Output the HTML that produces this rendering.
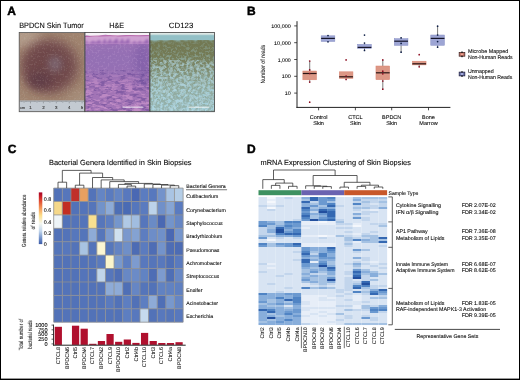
<!DOCTYPE html><html><head><meta charset="utf-8"><style>html,body{margin:0;padding:0;background:#fff;}svg{display:block;will-change:transform;font-family:"Liberation Sans",sans-serif;} text{stroke:#2a2a2a;stroke-width:0.1px;text-rendering:geometricPrecision;}</style></head><body>
<svg width="520" height="380" viewBox="0 0 520 380">
<defs>
<radialGradient id="lesion" cx="0.48" cy="0.5" r="0.55">
 <stop offset="0" stop-color="#8a6a74"/>
 <stop offset="0.35" stop-color="#7a5058"/>
 <stop offset="0.7" stop-color="#7d5a55"/>
 <stop offset="1" stop-color="#a98a74" stop-opacity="0"/>
</radialGradient>
<linearGradient id="he" x1="0" y1="0" x2="0" y2="1">
 <stop offset="0" stop-color="#b37cbf"/>
 <stop offset="0.15" stop-color="#9a6cb0"/>
 <stop offset="0.45" stop-color="#8a62a8"/>
 <stop offset="0.7" stop-color="#a276b4"/>
 <stop offset="1" stop-color="#9a6cae"/>
</linearGradient>
<linearGradient id="cd" x1="0" y1="0" x2="0" y2="1">
 <stop offset="0" stop-color="#6f7a5a"/>
 <stop offset="0.4" stop-color="#77806a"/>
 <stop offset="0.7" stop-color="#86a0a0"/>
 <stop offset="1" stop-color="#8ab4bc"/>
</linearGradient>
<linearGradient id="cbar" x1="0" y1="0" x2="0" y2="1">
 <stop offset="0" stop-color="#a50026"/>
 <stop offset="0.12" stop-color="#d73027"/>
 <stop offset="0.28" stop-color="#f08a50"/>
 <stop offset="0.45" stop-color="#fde08c"/>
 <stop offset="0.6" stop-color="#f4f6ef"/>
 <stop offset="0.75" stop-color="#c2d6ec"/>
 <stop offset="0.88" stop-color="#7594cb"/>
 <stop offset="1" stop-color="#3b5ba8"/>
</linearGradient>
<filter id="noise" x="0" y="0" width="1" height="1">
 <feTurbulence type="fractalNoise" baseFrequency="0.35" numOctaves="2" seed="3" result="n"/>
 <feColorMatrix in="n" type="matrix" values="0 0 0 0 1  0 0 0 0 1  0 0 0 0 1  0 0 0 1.4 -0.55" result="w"/>
 <feComposite in="w" in2="SourceGraphic" operator="in"/>
</filter>
<filter id="bl1" x="-20%" y="-20%" width="140%" height="140%"><feGaussianBlur stdDeviation="0.8"/></filter>
<filter id="bl3" x="-50%" y="-50%" width="200%" height="200%"><feGaussianBlur stdDeviation="3"/></filter>
<filter id="bl4" x="-50%" y="-50%" width="200%" height="200%"><feGaussianBlur stdDeviation="4"/></filter>
<filter id="bl5" x="-50%" y="-50%" width="200%" height="200%"><feGaussianBlur stdDeviation="5"/></filter>
<filter id="bl6" x="-50%" y="-50%" width="200%" height="200%"><feGaussianBlur stdDeviation="6"/></filter>
<filter id="spk1" x="0" y="0" width="1" height="1" color-interpolation-filters="sRGB">
 <feTurbulence type="fractalNoise" baseFrequency="0.7 0.5" numOctaves="2" seed="11"/>
 <feColorMatrix type="matrix" values="0 0 0 0 0  0 0 0 0 0  0 0 0 0 0  6 0 0 0 -3.2"/>
 <feComposite in="SourceGraphic" operator="in"/>
</filter>
<filter id="spk2" x="0" y="0" width="1" height="1" color-interpolation-filters="sRGB">
 <feTurbulence type="fractalNoise" baseFrequency="0.12 0.4" numOctaves="3" seed="4"/>
 <feColorMatrix type="matrix" values="0 0 0 0 0  0 0 0 0 0  0 0 0 0 0  6 0 0 0 -2.7"/>
 <feComposite in="SourceGraphic" operator="in"/>
</filter>
<filter id="spk3" x="0" y="0" width="1" height="1" color-interpolation-filters="sRGB">
 <feTurbulence type="fractalNoise" baseFrequency="0.5" numOctaves="2" seed="9"/>
 <feColorMatrix type="matrix" values="0 0 0 0 0  0 0 0 0 0  0 0 0 0 0  7 0 0 0 -3.6"/>
 <feComposite in="SourceGraphic" operator="in"/>
</filter>
<filter id="spk6" x="0" y="0" width="1" height="1" color-interpolation-filters="sRGB">
 <feTurbulence type="fractalNoise" baseFrequency="0.15 0.35" numOctaves="3" seed="21"/>
 <feColorMatrix type="matrix" values="0 0 0 0 0  0 0 0 0 0  0 0 0 0 0  7 0 0 0 -3.6"/>
 <feComposite in="SourceGraphic" operator="in"/>
</filter>
<filter id="spk4" x="0" y="0" width="1" height="1" color-interpolation-filters="sRGB">
 <feTurbulence type="fractalNoise" baseFrequency="0.38" numOctaves="3" seed="2"/>
 <feColorMatrix type="matrix" values="0 0 0 0 0  0 0 0 0 0  0 0 0 0 0  5 0 0 0 -2.3"/>
 <feComposite in="SourceGraphic" operator="in"/>
</filter>
<linearGradient id="olive" x1="0" y1="0" x2="0" y2="1">
 <stop offset="0" stop-color="#727852"/>
 <stop offset="0.4" stop-color="#767d58"/>
 <stop offset="0.7" stop-color="#808c6c" stop-opacity="0.85"/>
 <stop offset="1" stop-color="#7e8c72" stop-opacity="0.75"/>
</linearGradient>
<linearGradient id="gdown" x1="0" y1="0" x2="0" y2="1">
 <stop offset="0" stop-color="#fff" stop-opacity="0.12"/>
 <stop offset="0.5" stop-color="#fff" stop-opacity="0.6"/>
 <stop offset="1" stop-color="#fff" stop-opacity="1"/>
</linearGradient>
<linearGradient id="ltblue" x1="0" y1="0" x2="0" y2="1">
 <stop offset="0" stop-color="#a6ccd6" stop-opacity="0"/>
 <stop offset="0.5" stop-color="#a6ccd6" stop-opacity="0.35"/>
 <stop offset="1" stop-color="#a6ccd6" stop-opacity="0.55"/>
</linearGradient>
<filter id="spk5" x="0" y="0" width="1" height="1" color-interpolation-filters="sRGB">
 <feTurbulence type="fractalNoise" baseFrequency="0.3" numOctaves="3" seed="8"/>
 <feColorMatrix type="matrix" values="0 0 0 0 0  0 0 0 0 0  0 0 0 0 0  5 0 0 0 -2.2"/>
 <feComposite in="SourceGraphic" operator="in"/>
</filter>
<linearGradient id="ghe" x1="0" y1="0" x2="0" y2="1">
 <stop offset="0" stop-color="#fff" stop-opacity="0"/>
 <stop offset="0.35" stop-color="#fff" stop-opacity="0.45"/>
 <stop offset="1" stop-color="#fff" stop-opacity="0.6"/>
</linearGradient>
<mask id="mhe" maskUnits="userSpaceOnUse" x="85" y="68" width="65" height="44"><rect x="85" y="68" width="65" height="44" fill="url(#ghe)"/></mask>
<mask id="mdown" maskUnits="userSpaceOnUse" x="150" y="40" width="65" height="72"><rect x="150" y="40" width="65" height="72" fill="url(#gdown)"/></mask>
</defs>
<rect x="0.00" y="0.00" width="520.00" height="380.00" fill="#000"/>
<rect x="1.00" y="1.00" width="518.00" height="377.60" fill="#fff"/>
<text x="7.20" y="15.00" font-size="12" font-weight="bold" fill="#000" style="stroke:#000;stroke-width:0.45px">A</text>
<text x="19.20" y="27.80" font-size="7.7" textLength="64.60" lengthAdjust="spacingAndGlyphs">BPDCN Skin Tumor</text>
<text x="109.20" y="27.70" font-size="7.6" textLength="14.80" lengthAdjust="spacingAndGlyphs">H&amp;E</text>
<text x="168.80" y="27.70" font-size="7.6" textLength="24.50" lengthAdjust="spacingAndGlyphs">CD123</text>
<clipPath id="cpS"><rect x="19.2" y="32.5" width="65.50" height="79.20"/></clipPath>
<g clip-path="url(#cpS)">
<rect x="19.20" y="32.50" width="65.50" height="79.20" fill="#a0846f"/>
<ellipse cx="26" cy="38" rx="16" ry="10" fill="#b29c8a" filter="url(#bl4)"/>
<ellipse cx="82" cy="98" rx="14" ry="8" fill="#a68e7a" filter="url(#bl4)"/>
<ellipse cx="50" cy="66" rx="29" ry="27" fill="#7a5454" filter="url(#bl6)"/>
<ellipse cx="48" cy="67" rx="23" ry="22" fill="#6e4648" filter="url(#bl5)"/>
<ellipse cx="40" cy="80" rx="12" ry="8" fill="#603e46" filter="url(#bl4)"/>
<ellipse cx="55" cy="64" rx="7" ry="8" fill="#7a626c" filter="url(#bl3)"/>
<rect x="19.2" y="32.5" width="65.50" height="79.20" fill="#d8ccc4" filter="url(#spk1)" opacity="0.12"/>
</g>
<rect x="19.20" y="100.60" width="65.50" height="11.10" fill="#c3cad1"/>
<line x1="19.20" y1="100.80" x2="84.70" y2="100.80" stroke="#9aa2aa" stroke-width="0.4"/>
<line x1="20.20" y1="101.00" x2="20.20" y2="102.00" stroke="#555" stroke-width="0.35"/>
<line x1="21.49" y1="101.00" x2="21.49" y2="102.00" stroke="#555" stroke-width="0.35"/>
<line x1="22.78" y1="101.00" x2="22.78" y2="102.00" stroke="#555" stroke-width="0.35"/>
<line x1="24.07" y1="101.00" x2="24.07" y2="102.70" stroke="#555" stroke-width="0.35"/>
<line x1="25.36" y1="101.00" x2="25.36" y2="102.00" stroke="#555" stroke-width="0.35"/>
<line x1="26.65" y1="101.00" x2="26.65" y2="102.00" stroke="#555" stroke-width="0.35"/>
<line x1="27.94" y1="101.00" x2="27.94" y2="102.00" stroke="#555" stroke-width="0.35"/>
<line x1="29.23" y1="101.00" x2="29.23" y2="102.00" stroke="#555" stroke-width="0.35"/>
<line x1="30.52" y1="101.00" x2="30.52" y2="103.40" stroke="#555" stroke-width="0.35"/>
<line x1="31.81" y1="101.00" x2="31.81" y2="102.00" stroke="#555" stroke-width="0.35"/>
<line x1="33.10" y1="101.00" x2="33.10" y2="102.00" stroke="#555" stroke-width="0.35"/>
<line x1="34.39" y1="101.00" x2="34.39" y2="102.00" stroke="#555" stroke-width="0.35"/>
<line x1="35.68" y1="101.00" x2="35.68" y2="102.00" stroke="#555" stroke-width="0.35"/>
<line x1="36.97" y1="101.00" x2="36.97" y2="102.70" stroke="#555" stroke-width="0.35"/>
<line x1="38.26" y1="101.00" x2="38.26" y2="102.00" stroke="#555" stroke-width="0.35"/>
<line x1="39.55" y1="101.00" x2="39.55" y2="102.00" stroke="#555" stroke-width="0.35"/>
<line x1="40.84" y1="101.00" x2="40.84" y2="102.00" stroke="#555" stroke-width="0.35"/>
<line x1="42.13" y1="101.00" x2="42.13" y2="102.00" stroke="#555" stroke-width="0.35"/>
<line x1="43.42" y1="101.00" x2="43.42" y2="103.40" stroke="#555" stroke-width="0.35"/>
<line x1="44.71" y1="101.00" x2="44.71" y2="102.00" stroke="#555" stroke-width="0.35"/>
<line x1="46.00" y1="101.00" x2="46.00" y2="102.00" stroke="#555" stroke-width="0.35"/>
<line x1="47.29" y1="101.00" x2="47.29" y2="102.00" stroke="#555" stroke-width="0.35"/>
<line x1="48.58" y1="101.00" x2="48.58" y2="102.00" stroke="#555" stroke-width="0.35"/>
<line x1="49.87" y1="101.00" x2="49.87" y2="102.70" stroke="#555" stroke-width="0.35"/>
<line x1="51.16" y1="101.00" x2="51.16" y2="102.00" stroke="#555" stroke-width="0.35"/>
<line x1="52.45" y1="101.00" x2="52.45" y2="102.00" stroke="#555" stroke-width="0.35"/>
<line x1="53.74" y1="101.00" x2="53.74" y2="102.00" stroke="#555" stroke-width="0.35"/>
<line x1="55.03" y1="101.00" x2="55.03" y2="102.00" stroke="#555" stroke-width="0.35"/>
<line x1="56.32" y1="101.00" x2="56.32" y2="103.40" stroke="#555" stroke-width="0.35"/>
<line x1="57.61" y1="101.00" x2="57.61" y2="102.00" stroke="#555" stroke-width="0.35"/>
<line x1="58.90" y1="101.00" x2="58.90" y2="102.00" stroke="#555" stroke-width="0.35"/>
<line x1="60.19" y1="101.00" x2="60.19" y2="102.00" stroke="#555" stroke-width="0.35"/>
<line x1="61.48" y1="101.00" x2="61.48" y2="102.00" stroke="#555" stroke-width="0.35"/>
<line x1="62.77" y1="101.00" x2="62.77" y2="102.70" stroke="#555" stroke-width="0.35"/>
<line x1="64.06" y1="101.00" x2="64.06" y2="102.00" stroke="#555" stroke-width="0.35"/>
<line x1="65.35" y1="101.00" x2="65.35" y2="102.00" stroke="#555" stroke-width="0.35"/>
<line x1="66.64" y1="101.00" x2="66.64" y2="102.00" stroke="#555" stroke-width="0.35"/>
<line x1="67.93" y1="101.00" x2="67.93" y2="102.00" stroke="#555" stroke-width="0.35"/>
<line x1="69.22" y1="101.00" x2="69.22" y2="103.40" stroke="#555" stroke-width="0.35"/>
<line x1="70.51" y1="101.00" x2="70.51" y2="102.00" stroke="#555" stroke-width="0.35"/>
<line x1="71.80" y1="101.00" x2="71.80" y2="102.00" stroke="#555" stroke-width="0.35"/>
<line x1="73.09" y1="101.00" x2="73.09" y2="102.00" stroke="#555" stroke-width="0.35"/>
<line x1="74.38" y1="101.00" x2="74.38" y2="102.00" stroke="#555" stroke-width="0.35"/>
<line x1="75.67" y1="101.00" x2="75.67" y2="102.70" stroke="#555" stroke-width="0.35"/>
<line x1="76.96" y1="101.00" x2="76.96" y2="102.00" stroke="#555" stroke-width="0.35"/>
<line x1="78.25" y1="101.00" x2="78.25" y2="102.00" stroke="#555" stroke-width="0.35"/>
<line x1="79.54" y1="101.00" x2="79.54" y2="102.00" stroke="#555" stroke-width="0.35"/>
<line x1="80.83" y1="101.00" x2="80.83" y2="102.00" stroke="#555" stroke-width="0.35"/>
<line x1="82.12" y1="101.00" x2="82.12" y2="103.40" stroke="#555" stroke-width="0.35"/>
<line x1="83.41" y1="101.00" x2="83.41" y2="102.00" stroke="#555" stroke-width="0.35"/>
<text x="22.60" y="108.80" font-size="3.8" text-anchor="middle" fill="#333">cm</text>
<text x="30.50" y="108.80" font-size="4.4" text-anchor="middle" fill="#333">1</text>
<text x="43.40" y="108.80" font-size="4.4" text-anchor="middle" fill="#333">2</text>
<text x="56.30" y="108.80" font-size="4.4" text-anchor="middle" fill="#333">3</text>
<text x="69.20" y="108.80" font-size="4.4" text-anchor="middle" fill="#333">4</text>
<text x="82.10" y="108.80" font-size="4.4" text-anchor="middle" fill="#333">5</text>
<rect x="19.2" y="32.5" width="65.50" height="79.20" fill="none" stroke="#555" stroke-width="0.8"/>
<clipPath id="cpH"><rect x="85.0" y="32.5" width="64.40" height="79.20"/></clipPath>
<g clip-path="url(#cpH)">
<rect x="85.00" y="32.50" width="64.40" height="79.20" fill="#a274b6"/>
<ellipse cx="112" cy="60" rx="38" ry="17" fill="#9470b4" filter="url(#bl5)"/>
<ellipse cx="143" cy="64" rx="8" ry="24" fill="#8462aa" filter="url(#bl4)"/>
<rect x="85.00" y="35.50" width="64.40" height="8.50" fill="#d0a2d2"/>
<polygon points="85.0 44 86.0 40.2 86.9 40.5 88.0 43.7 93.0 40.8 94.0 41.1 95.1 42.5 99.2 39.9 100.3 40.2 101.5 43.9 104.7 38.7 105.5 39.0 106.5 43.3 110.3 38.7 110.9 39.0 111.7 42.9 116.6 38.5 117.6 38.8 118.7 43.7 122.0 38.4 122.9 38.7 124.0 42.5 128.5 38.6 129.2 38.9 130.1 44.0 134.7 40.9 135.4 41.2 136.3 43.3 140.4 40.8 141.1 41.1 141.9 43.5 147.1 38.9 148.1 39.2 149.3 43.0 149.4 44" fill="#9a68b4" filter="url(#bl1)"/>
<rect x="85.00" y="44.00" width="64.40" height="30.00" fill="#b894cc" filter="url(#spk3)" opacity="0.3"/>
<rect x="85.00" y="68.00" width="64.40" height="44.00" fill="#d49cd0" filter="url(#spk2)" mask="url(#mhe)"/>
<rect x="85.00" y="70.00" width="64.40" height="42.00" fill="#5e4090" filter="url(#spk6)" opacity="0.45"/>
<path d="M85.0 32.5H149.4V35.2Q145 34.8 140 35.4 T130 35.2 T120 35.6 T110 35.3 T100 35.8 T90 36.0 T85.0 36.2Z" fill="#f6f2f6"/>
<path d="M85.0 36.5 L90 36.3 L100 36.0 L110 35.7 L120 36.0 L130 35.6 L140 35.8 L149.4 35.6" stroke="#b866aa" stroke-width="1.0" fill="none"/>
</g>
<line x1="122.50" y1="107.20" x2="143.40" y2="107.20" stroke="#fff" stroke-width="0.8"/>
<rect x="85.0" y="32.5" width="64.40" height="79.20" fill="none" stroke="#444" stroke-width="0.8"/>
<clipPath id="cpC"><rect x="150.0" y="32.5" width="64.50" height="79.20"/></clipPath>
<g clip-path="url(#cpC)">
<rect x="150.00" y="32.50" width="64.50" height="79.20" fill="#94c0c6"/>
<rect x="150.00" y="40.00" width="64.50" height="72.00" fill="url(#olive)"/>
<rect x="150.00" y="40.00" width="64.50" height="72.00" fill="#a8d8e6" filter="url(#spk4)" mask="url(#mdown)"/>
<rect x="150.00" y="55.00" width="64.50" height="57.00" fill="url(#ltblue)"/>
<rect x="150.00" y="60.00" width="64.50" height="52.00" fill="#b6d8e2" filter="url(#spk5)" opacity="0.55"/>
<rect x="150.00" y="32.50" width="64.50" height="2.80" fill="#e4ece8"/>
<path d="M150.0 35.0H214.5V38.5L211 41L207 37.5L203 40L199 38L196 41L190 38.5L186 41L182 39L178 41.5L172 39L166 41L160 39.5L155 41.5L150.0 40Z" fill="#92c0c6" filter="url(#bl1)"/>
</g>
<line x1="188.60" y1="107.20" x2="209.40" y2="107.20" stroke="#fff" stroke-width="0.8"/>
<rect x="150.0" y="32.5" width="64.50" height="79.20" fill="none" stroke="#444" stroke-width="0.8"/>
<text x="247.00" y="15.00" font-size="12" font-weight="bold" fill="#000" style="stroke:#000;stroke-width:0.45px">B</text>
<line x1="297.00" y1="21.20" x2="297.00" y2="108.00" stroke="#222" stroke-width="1.0"/>
<line x1="296.50" y1="107.40" x2="450.40" y2="107.40" stroke="#222" stroke-width="1.0"/>
<line x1="294.20" y1="25.90" x2="297.00" y2="25.90" stroke="#222" stroke-width="0.8"/>
<text x="290.70" y="27.90" font-size="5.2" text-anchor="end" textLength="19.50" lengthAdjust="spacingAndGlyphs">100,000</text>
<line x1="294.20" y1="42.70" x2="297.00" y2="42.70" stroke="#222" stroke-width="0.8"/>
<text x="290.70" y="44.70" font-size="5.2" text-anchor="end" textLength="16.60" lengthAdjust="spacingAndGlyphs">10,000</text>
<line x1="294.20" y1="59.50" x2="297.00" y2="59.50" stroke="#222" stroke-width="0.8"/>
<text x="290.70" y="61.50" font-size="5.2" text-anchor="end" textLength="13.00" lengthAdjust="spacingAndGlyphs">1,000</text>
<line x1="294.20" y1="76.30" x2="297.00" y2="76.30" stroke="#222" stroke-width="0.8"/>
<text x="290.70" y="78.30" font-size="5.2" text-anchor="end" textLength="9.00" lengthAdjust="spacingAndGlyphs">100</text>
<line x1="294.20" y1="93.10" x2="297.00" y2="93.10" stroke="#222" stroke-width="0.8"/>
<text x="290.70" y="95.10" font-size="5.2" text-anchor="end" textLength="6.00" lengthAdjust="spacingAndGlyphs">10</text>
<text x="264.90" y="64.20" font-size="6.3" text-anchor="middle" textLength="38.80" lengthAdjust="spacingAndGlyphs" transform="rotate(-90 264.90 64.20)" style="stroke-width:0.03px">Number of reads</text>
<line x1="318.60" y1="107.40" x2="318.60" y2="110.30" stroke="#222" stroke-width="0.8"/>
<text x="318.60" y="118.50" font-size="5.5" text-anchor="middle">Control</text>
<text x="318.60" y="124.80" font-size="5.5" text-anchor="middle">Skin</text>
<line x1="355.40" y1="107.40" x2="355.40" y2="110.30" stroke="#222" stroke-width="0.8"/>
<text x="355.40" y="118.50" font-size="5.5" text-anchor="middle">CTCL</text>
<text x="355.40" y="124.80" font-size="5.5" text-anchor="middle">Skin</text>
<line x1="391.70" y1="107.40" x2="391.70" y2="110.30" stroke="#222" stroke-width="0.8"/>
<text x="391.70" y="118.50" font-size="5.5" text-anchor="middle">BPDCN</text>
<text x="391.70" y="124.80" font-size="5.5" text-anchor="middle">Skin</text>
<line x1="428.50" y1="107.40" x2="428.50" y2="110.30" stroke="#222" stroke-width="0.8"/>
<text x="428.50" y="118.50" font-size="5.5" text-anchor="middle">Bone</text>
<text x="428.50" y="124.80" font-size="5.5" text-anchor="middle">Marrow</text>
<line x1="309.70" y1="61.00" x2="309.70" y2="82.10" stroke="#444" stroke-width="0.7"/>
<rect x="302.85" y="71.00" width="13.70" height="8.80" fill="#dc9886" stroke="#d98470" stroke-width="0.5"/>
<line x1="302.85" y1="73.50" x2="316.55" y2="73.50" stroke="#2a1515" stroke-width="1.2"/>
<circle cx="309.70" cy="61.00" r="0.85" fill="#8b0a1e"/>
<circle cx="309.70" cy="69.90" r="0.85" fill="#8b0a1e"/>
<circle cx="309.70" cy="73.50" r="0.85" fill="#8b0a1e"/>
<circle cx="309.70" cy="82.10" r="0.85" fill="#8b0a1e"/>
<circle cx="309.70" cy="102.20" r="0.85" fill="#8b0a1e"/>
<line x1="328.00" y1="35.60" x2="328.00" y2="41.80" stroke="#444" stroke-width="0.7"/>
<rect x="321.15" y="35.80" width="13.70" height="5.70" fill="#9da5d4" stroke="#8890c4" stroke-width="0.5"/>
<line x1="321.15" y1="38.40" x2="334.85" y2="38.40" stroke="#15152a" stroke-width="1.2"/>
<circle cx="328.00" cy="35.60" r="0.85" fill="#0d1d45"/>
<circle cx="328.00" cy="41.80" r="0.85" fill="#0d1d45"/>
<line x1="346.10" y1="76.00" x2="346.10" y2="79.50" stroke="#444" stroke-width="0.7"/>
<rect x="339.25" y="71.80" width="13.70" height="6.60" fill="#dc9886" stroke="#d98470" stroke-width="0.5"/>
<line x1="339.25" y1="76.80" x2="352.95" y2="76.80" stroke="#2a1515" stroke-width="1.2"/>
<circle cx="346.10" cy="59.90" r="0.85" fill="#8b0a1e"/>
<circle cx="346.10" cy="76.00" r="0.85" fill="#8b0a1e"/>
<circle cx="346.10" cy="79.50" r="0.85" fill="#8b0a1e"/>
<line x1="364.50" y1="43.00" x2="364.50" y2="50.40" stroke="#444" stroke-width="0.7"/>
<rect x="357.65" y="44.30" width="13.70" height="4.10" fill="#9da5d4" stroke="#8890c4" stroke-width="0.5"/>
<line x1="357.65" y1="47.40" x2="371.35" y2="47.40" stroke="#15152a" stroke-width="1.2"/>
<circle cx="364.50" cy="35.10" r="0.85" fill="#0d1d45"/>
<circle cx="364.50" cy="43.00" r="0.85" fill="#0d1d45"/>
<circle cx="364.50" cy="50.40" r="0.85" fill="#0d1d45"/>
<line x1="382.80" y1="59.90" x2="382.80" y2="89.20" stroke="#444" stroke-width="0.7"/>
<rect x="375.95" y="66.00" width="13.70" height="13.70" fill="#dc9886" stroke="#d98470" stroke-width="0.5"/>
<line x1="375.95" y1="72.80" x2="389.65" y2="72.80" stroke="#2a1515" stroke-width="1.2"/>
<circle cx="382.80" cy="59.90" r="0.85" fill="#8b0a1e"/>
<circle cx="382.80" cy="71.20" r="0.85" fill="#8b0a1e"/>
<circle cx="382.80" cy="73.80" r="0.85" fill="#8b0a1e"/>
<circle cx="382.80" cy="81.00" r="0.85" fill="#8b0a1e"/>
<circle cx="382.80" cy="89.20" r="0.85" fill="#8b0a1e"/>
<line x1="401.10" y1="37.80" x2="401.10" y2="52.20" stroke="#444" stroke-width="0.7"/>
<rect x="394.25" y="38.60" width="13.70" height="6.80" fill="#9da5d4" stroke="#8890c4" stroke-width="0.5"/>
<line x1="394.25" y1="41.20" x2="407.95" y2="41.20" stroke="#15152a" stroke-width="1.2"/>
<circle cx="401.10" cy="37.80" r="0.85" fill="#0d1d45"/>
<circle cx="401.10" cy="43.40" r="0.85" fill="#0d1d45"/>
<circle cx="401.10" cy="52.20" r="0.85" fill="#0d1d45"/>
<line x1="419.20" y1="63.80" x2="419.20" y2="66.80" stroke="#444" stroke-width="0.7"/>
<rect x="412.35" y="61.20" width="13.70" height="3.70" fill="#dc9886" stroke="#d98470" stroke-width="0.5"/>
<line x1="412.35" y1="63.80" x2="426.05" y2="63.80" stroke="#2a1515" stroke-width="1.2"/>
<circle cx="419.20" cy="54.70" r="0.85" fill="#8b0a1e"/>
<circle cx="419.20" cy="66.80" r="0.85" fill="#8b0a1e"/>
<line x1="437.60" y1="26.20" x2="437.60" y2="47.20" stroke="#444" stroke-width="0.7"/>
<rect x="430.75" y="35.00" width="13.70" height="10.30" fill="#9da5d4" stroke="#8890c4" stroke-width="0.5"/>
<line x1="430.75" y1="38.40" x2="444.45" y2="38.40" stroke="#15152a" stroke-width="1.2"/>
<circle cx="437.60" cy="26.20" r="0.85" fill="#0d1d45"/>
<circle cx="437.60" cy="35.00" r="0.85" fill="#0d1d45"/>
<circle cx="437.60" cy="41.60" r="0.85" fill="#0d1d45"/>
<circle cx="437.60" cy="47.20" r="0.85" fill="#0d1d45"/>
<line x1="462.00" y1="51.30" x2="462.00" y2="57.30" stroke="#111" stroke-width="0.8"/>
<rect x="459.15" y="52.40" width="5.70" height="3.80" fill="#c27465" stroke="#3a2020" stroke-width="0.7"/>
<ellipse cx="462.00" cy="54.30" rx="1.3" ry="0.9" fill="#f2a696"/>
<circle cx="462.00" cy="52.40" r="0.7" fill="#111"/>
<circle cx="462.00" cy="56.20" r="0.7" fill="#111"/>
<line x1="462.00" y1="71.00" x2="462.00" y2="77.00" stroke="#111" stroke-width="0.8"/>
<rect x="459.15" y="72.10" width="5.70" height="3.80" fill="#6a72aa" stroke="#1c1c3c" stroke-width="0.7"/>
<ellipse cx="462.00" cy="74.00" rx="1.3" ry="0.9" fill="#aab2e2"/>
<circle cx="462.00" cy="72.10" r="0.7" fill="#111"/>
<circle cx="462.00" cy="75.90" r="0.7" fill="#111"/>
<text x="467.90" y="53.30" font-size="5.5" textLength="40.40" lengthAdjust="spacingAndGlyphs">Microbe Mapped</text>
<text x="467.90" y="59.40" font-size="5.5" textLength="44.80" lengthAdjust="spacingAndGlyphs">Non-Human Reads</text>
<text x="467.90" y="72.50" font-size="5.5" textLength="25.70" lengthAdjust="spacingAndGlyphs">Unmapped</text>
<text x="467.90" y="79.10" font-size="5.5" textLength="44.40" lengthAdjust="spacingAndGlyphs">Non-Human Reads</text>
<text x="7.80" y="153.00" font-size="12" font-weight="bold" fill="#000" style="stroke:#000;stroke-width:0.45px">C</text>
<text x="49.00" y="164.80" font-size="7.4" textLength="142.50" lengthAdjust="spacingAndGlyphs">Bacterial Genera Identified in Skin Biopsies</text>
<rect x="53.70" y="188.10" width="8.68" height="13.46" fill="#5272b8"/>
<rect x="62.33" y="188.10" width="8.68" height="13.46" fill="#5676bb"/>
<rect x="70.95" y="188.10" width="8.68" height="13.46" fill="#c0302a"/>
<rect x="79.58" y="188.10" width="8.68" height="13.46" fill="#e8a060"/>
<rect x="88.21" y="188.10" width="8.68" height="13.46" fill="#5373b9"/>
<rect x="96.84" y="188.10" width="8.68" height="13.46" fill="#6485c4"/>
<rect x="105.46" y="188.10" width="8.68" height="13.46" fill="#5a7bbf"/>
<rect x="114.09" y="188.10" width="8.68" height="13.46" fill="#6485c4"/>
<rect x="122.72" y="188.10" width="8.68" height="13.46" fill="#5878be"/>
<rect x="131.34" y="188.10" width="8.68" height="13.46" fill="#4a68b3"/>
<rect x="139.97" y="188.10" width="8.68" height="13.46" fill="#5b7cc0"/>
<rect x="148.60" y="188.10" width="8.68" height="13.46" fill="#5778be"/>
<rect x="157.22" y="188.10" width="8.68" height="13.46" fill="#7393cb"/>
<rect x="165.85" y="188.10" width="8.68" height="13.46" fill="#a9c4e3"/>
<rect x="174.48" y="188.10" width="8.68" height="13.46" fill="#b4cde6"/>
<rect x="53.70" y="201.51" width="8.68" height="13.46" fill="#f5d88a"/>
<rect x="62.33" y="201.51" width="8.68" height="13.46" fill="#c22e22"/>
<rect x="70.95" y="201.51" width="8.68" height="13.46" fill="#5272b8"/>
<rect x="79.58" y="201.51" width="8.68" height="13.46" fill="#5474ba"/>
<rect x="88.21" y="201.51" width="8.68" height="13.46" fill="#5575ba"/>
<rect x="96.84" y="201.51" width="8.68" height="13.46" fill="#7293ca"/>
<rect x="105.46" y="201.51" width="8.68" height="13.46" fill="#8dabd7"/>
<rect x="114.09" y="201.51" width="8.68" height="13.46" fill="#4e6fb5"/>
<rect x="122.72" y="201.51" width="8.68" height="13.46" fill="#4a6bb4"/>
<rect x="131.34" y="201.51" width="8.68" height="13.46" fill="#5576bc"/>
<rect x="139.97" y="201.51" width="8.68" height="13.46" fill="#5a7bbf"/>
<rect x="148.60" y="201.51" width="8.68" height="13.46" fill="#bcd3ea"/>
<rect x="157.22" y="201.51" width="8.68" height="13.46" fill="#7090c9"/>
<rect x="165.85" y="201.51" width="8.68" height="13.46" fill="#86a5d4"/>
<rect x="174.48" y="201.51" width="8.68" height="13.46" fill="#5a7bc0"/>
<rect x="53.70" y="214.92" width="8.68" height="13.46" fill="#eef4f7"/>
<rect x="62.33" y="214.92" width="8.68" height="13.46" fill="#5272b8"/>
<rect x="70.95" y="214.92" width="8.68" height="13.46" fill="#5373b9"/>
<rect x="79.58" y="214.92" width="8.68" height="13.46" fill="#5474ba"/>
<rect x="88.21" y="214.92" width="8.68" height="13.46" fill="#f8e090"/>
<rect x="96.84" y="214.92" width="8.68" height="13.46" fill="#5676bb"/>
<rect x="105.46" y="214.92" width="8.68" height="13.46" fill="#5d7ec1"/>
<rect x="114.09" y="214.92" width="8.68" height="13.46" fill="#7596cc"/>
<rect x="122.72" y="214.92" width="8.68" height="13.46" fill="#b0c9e5"/>
<rect x="131.34" y="214.92" width="8.68" height="13.46" fill="#a1bde0"/>
<rect x="139.97" y="214.92" width="8.68" height="13.46" fill="#5676bc"/>
<rect x="148.60" y="214.92" width="8.68" height="13.46" fill="#6a8bc6"/>
<rect x="157.22" y="214.92" width="8.68" height="13.46" fill="#4a68b3"/>
<rect x="165.85" y="214.92" width="8.68" height="13.46" fill="#7394cb"/>
<rect x="174.48" y="214.92" width="8.68" height="13.46" fill="#6686c4"/>
<rect x="53.70" y="228.33" width="8.68" height="13.46" fill="#5272b8"/>
<rect x="62.33" y="228.33" width="8.68" height="13.46" fill="#5373b9"/>
<rect x="70.95" y="228.33" width="8.68" height="13.46" fill="#5677bc"/>
<rect x="79.58" y="228.33" width="8.68" height="13.46" fill="#5475ba"/>
<rect x="88.21" y="228.33" width="8.68" height="13.46" fill="#8eabd7"/>
<rect x="96.84" y="228.33" width="8.68" height="13.46" fill="#5676bb"/>
<rect x="105.46" y="228.33" width="8.68" height="13.46" fill="#7d9bcf"/>
<rect x="114.09" y="228.33" width="8.68" height="13.46" fill="#cfe0ef"/>
<rect x="122.72" y="228.33" width="8.68" height="13.46" fill="#7a98cd"/>
<rect x="131.34" y="228.33" width="8.68" height="13.46" fill="#84a2d2"/>
<rect x="139.97" y="228.33" width="8.68" height="13.46" fill="#5d7dc0"/>
<rect x="148.60" y="228.33" width="8.68" height="13.46" fill="#6d8dc8"/>
<rect x="157.22" y="228.33" width="8.68" height="13.46" fill="#7090c9"/>
<rect x="165.85" y="228.33" width="8.68" height="13.46" fill="#4a68b3"/>
<rect x="174.48" y="228.33" width="8.68" height="13.46" fill="#7595cc"/>
<rect x="53.70" y="241.74" width="8.68" height="13.46" fill="#5475ba"/>
<rect x="62.33" y="241.74" width="8.68" height="13.46" fill="#5777bc"/>
<rect x="70.95" y="241.74" width="8.68" height="13.46" fill="#5373b9"/>
<rect x="79.58" y="241.74" width="8.68" height="13.46" fill="#a8c3e2"/>
<rect x="88.21" y="241.74" width="8.68" height="13.46" fill="#5474ba"/>
<rect x="96.84" y="241.74" width="8.68" height="13.46" fill="#fbf6d3"/>
<rect x="105.46" y="241.74" width="8.68" height="13.46" fill="#5677bc"/>
<rect x="114.09" y="241.74" width="8.68" height="13.46" fill="#6383c3"/>
<rect x="122.72" y="241.74" width="8.68" height="13.46" fill="#6f8fc8"/>
<rect x="131.34" y="241.74" width="8.68" height="13.46" fill="#4d6cb4"/>
<rect x="139.97" y="241.74" width="8.68" height="13.46" fill="#5b7bbf"/>
<rect x="148.60" y="241.74" width="8.68" height="13.46" fill="#4e6db5"/>
<rect x="157.22" y="241.74" width="8.68" height="13.46" fill="#7393cb"/>
<rect x="165.85" y="241.74" width="8.68" height="13.46" fill="#4e6db5"/>
<rect x="174.48" y="241.74" width="8.68" height="13.46" fill="#4d6cb4"/>
<rect x="53.70" y="255.15" width="8.68" height="13.46" fill="#5272b8"/>
<rect x="62.33" y="255.15" width="8.68" height="13.46" fill="#5272b8"/>
<rect x="70.95" y="255.15" width="8.68" height="13.46" fill="#5373b9"/>
<rect x="79.58" y="255.15" width="8.68" height="13.46" fill="#5272b8"/>
<rect x="88.21" y="255.15" width="8.68" height="13.46" fill="#5373b9"/>
<rect x="96.84" y="255.15" width="8.68" height="13.46" fill="#5a7abe"/>
<rect x="105.46" y="255.15" width="8.68" height="13.46" fill="#fbf5cc"/>
<rect x="114.09" y="255.15" width="8.68" height="13.46" fill="#7898cd"/>
<rect x="122.72" y="255.15" width="8.68" height="13.46" fill="#5d7ec1"/>
<rect x="131.34" y="255.15" width="8.68" height="13.46" fill="#7d9bcf"/>
<rect x="139.97" y="255.15" width="8.68" height="13.46" fill="#5878bd"/>
<rect x="148.60" y="255.15" width="8.68" height="13.46" fill="#5575ba"/>
<rect x="157.22" y="255.15" width="8.68" height="13.46" fill="#5878bd"/>
<rect x="165.85" y="255.15" width="8.68" height="13.46" fill="#4f6fb6"/>
<rect x="174.48" y="255.15" width="8.68" height="13.46" fill="#5a7abe"/>
<rect x="53.70" y="268.56" width="8.68" height="13.46" fill="#5272b8"/>
<rect x="62.33" y="268.56" width="8.68" height="13.46" fill="#5373b9"/>
<rect x="70.95" y="268.56" width="8.68" height="13.46" fill="#5272b8"/>
<rect x="79.58" y="268.56" width="8.68" height="13.46" fill="#5474ba"/>
<rect x="88.21" y="268.56" width="8.68" height="13.46" fill="#5272b8"/>
<rect x="96.84" y="268.56" width="8.68" height="13.46" fill="#c0d5ea"/>
<rect x="105.46" y="268.56" width="8.68" height="13.46" fill="#5676bb"/>
<rect x="114.09" y="268.56" width="8.68" height="13.46" fill="#4f6eb5"/>
<rect x="122.72" y="268.56" width="8.68" height="13.46" fill="#6888c5"/>
<rect x="131.34" y="268.56" width="8.68" height="13.46" fill="#6b8bc7"/>
<rect x="139.97" y="268.56" width="8.68" height="13.46" fill="#6183c3"/>
<rect x="148.60" y="268.56" width="8.68" height="13.46" fill="#4e6db5"/>
<rect x="157.22" y="268.56" width="8.68" height="13.46" fill="#7d9bcf"/>
<rect x="165.85" y="268.56" width="8.68" height="13.46" fill="#4f6fb6"/>
<rect x="174.48" y="268.56" width="8.68" height="13.46" fill="#6888c5"/>
<rect x="53.70" y="281.97" width="8.68" height="13.46" fill="#5272b8"/>
<rect x="62.33" y="281.97" width="8.68" height="13.46" fill="#5373b9"/>
<rect x="70.95" y="281.97" width="8.68" height="13.46" fill="#5272b8"/>
<rect x="79.58" y="281.97" width="8.68" height="13.46" fill="#5373b9"/>
<rect x="88.21" y="281.97" width="8.68" height="13.46" fill="#5272b8"/>
<rect x="96.84" y="281.97" width="8.68" height="13.46" fill="#5373b9"/>
<rect x="105.46" y="281.97" width="8.68" height="13.46" fill="#8eabd7"/>
<rect x="114.09" y="281.97" width="8.68" height="13.46" fill="#8eabd7"/>
<rect x="122.72" y="281.97" width="8.68" height="13.46" fill="#4f6fb6"/>
<rect x="131.34" y="281.97" width="8.68" height="13.46" fill="#6686c4"/>
<rect x="139.97" y="281.97" width="8.68" height="13.46" fill="#5575ba"/>
<rect x="148.60" y="281.97" width="8.68" height="13.46" fill="#5272b8"/>
<rect x="157.22" y="281.97" width="8.68" height="13.46" fill="#6182c2"/>
<rect x="165.85" y="281.97" width="8.68" height="13.46" fill="#6182c2"/>
<rect x="174.48" y="281.97" width="8.68" height="13.46" fill="#5f80c1"/>
<rect x="53.70" y="295.38" width="8.68" height="13.46" fill="#5272b8"/>
<rect x="62.33" y="295.38" width="8.68" height="13.46" fill="#5373b9"/>
<rect x="70.95" y="295.38" width="8.68" height="13.46" fill="#5272b8"/>
<rect x="79.58" y="295.38" width="8.68" height="13.46" fill="#5373b9"/>
<rect x="88.21" y="295.38" width="8.68" height="13.46" fill="#5272b8"/>
<rect x="96.84" y="295.38" width="8.68" height="13.46" fill="#5373b9"/>
<rect x="105.46" y="295.38" width="8.68" height="13.46" fill="#5a7abe"/>
<rect x="114.09" y="295.38" width="8.68" height="13.46" fill="#5272b8"/>
<rect x="122.72" y="295.38" width="8.68" height="13.46" fill="#5d7ec1"/>
<rect x="131.34" y="295.38" width="8.68" height="13.46" fill="#5171b7"/>
<rect x="139.97" y="295.38" width="8.68" height="13.46" fill="#5d7ec1"/>
<rect x="148.60" y="295.38" width="8.68" height="13.46" fill="#8eabd7"/>
<rect x="157.22" y="295.38" width="8.68" height="13.46" fill="#4f6fb6"/>
<rect x="165.85" y="295.38" width="8.68" height="13.46" fill="#7898cd"/>
<rect x="174.48" y="295.38" width="8.68" height="13.46" fill="#6686c4"/>
<rect x="53.70" y="308.79" width="8.68" height="13.46" fill="#5272b8"/>
<rect x="62.33" y="308.79" width="8.68" height="13.46" fill="#5373b9"/>
<rect x="70.95" y="308.79" width="8.68" height="13.46" fill="#5272b8"/>
<rect x="79.58" y="308.79" width="8.68" height="13.46" fill="#5373b9"/>
<rect x="88.21" y="308.79" width="8.68" height="13.46" fill="#5272b8"/>
<rect x="96.84" y="308.79" width="8.68" height="13.46" fill="#5373b9"/>
<rect x="105.46" y="308.79" width="8.68" height="13.46" fill="#5373b9"/>
<rect x="114.09" y="308.79" width="8.68" height="13.46" fill="#5272b8"/>
<rect x="122.72" y="308.79" width="8.68" height="13.46" fill="#5d7ec1"/>
<rect x="131.34" y="308.79" width="8.68" height="13.46" fill="#5878bd"/>
<rect x="139.97" y="308.79" width="8.68" height="13.46" fill="#c6daee"/>
<rect x="148.60" y="308.79" width="8.68" height="13.46" fill="#5272b8"/>
<rect x="157.22" y="308.79" width="8.68" height="13.46" fill="#5878bd"/>
<rect x="165.85" y="308.79" width="8.68" height="13.46" fill="#5575ba"/>
<rect x="174.48" y="308.79" width="8.68" height="13.46" fill="#5878bd"/>
<line x1="53.70" y1="188.10" x2="53.70" y2="322.20" stroke="#8e8e8e" stroke-width="0.8"/>
<line x1="62.33" y1="188.10" x2="62.33" y2="322.20" stroke="#8e8e8e" stroke-width="0.8"/>
<line x1="70.95" y1="188.10" x2="70.95" y2="322.20" stroke="#8e8e8e" stroke-width="0.8"/>
<line x1="79.58" y1="188.10" x2="79.58" y2="322.20" stroke="#8e8e8e" stroke-width="0.8"/>
<line x1="88.21" y1="188.10" x2="88.21" y2="322.20" stroke="#8e8e8e" stroke-width="0.8"/>
<line x1="96.84" y1="188.10" x2="96.84" y2="322.20" stroke="#8e8e8e" stroke-width="0.8"/>
<line x1="105.46" y1="188.10" x2="105.46" y2="322.20" stroke="#8e8e8e" stroke-width="0.8"/>
<line x1="114.09" y1="188.10" x2="114.09" y2="322.20" stroke="#8e8e8e" stroke-width="0.8"/>
<line x1="122.72" y1="188.10" x2="122.72" y2="322.20" stroke="#8e8e8e" stroke-width="0.8"/>
<line x1="131.34" y1="188.10" x2="131.34" y2="322.20" stroke="#8e8e8e" stroke-width="0.8"/>
<line x1="139.97" y1="188.10" x2="139.97" y2="322.20" stroke="#8e8e8e" stroke-width="0.8"/>
<line x1="148.60" y1="188.10" x2="148.60" y2="322.20" stroke="#8e8e8e" stroke-width="0.8"/>
<line x1="157.22" y1="188.10" x2="157.22" y2="322.20" stroke="#8e8e8e" stroke-width="0.8"/>
<line x1="165.85" y1="188.10" x2="165.85" y2="322.20" stroke="#8e8e8e" stroke-width="0.8"/>
<line x1="174.48" y1="188.10" x2="174.48" y2="322.20" stroke="#8e8e8e" stroke-width="0.8"/>
<line x1="183.11" y1="188.10" x2="183.11" y2="322.20" stroke="#8e8e8e" stroke-width="0.8"/>
<line x1="53.70" y1="188.10" x2="183.11" y2="188.10" stroke="#8e8e8e" stroke-width="0.8"/>
<line x1="53.70" y1="201.51" x2="183.11" y2="201.51" stroke="#8e8e8e" stroke-width="0.8"/>
<line x1="53.70" y1="214.92" x2="183.11" y2="214.92" stroke="#8e8e8e" stroke-width="0.8"/>
<line x1="53.70" y1="228.33" x2="183.11" y2="228.33" stroke="#8e8e8e" stroke-width="0.8"/>
<line x1="53.70" y1="241.74" x2="183.11" y2="241.74" stroke="#8e8e8e" stroke-width="0.8"/>
<line x1="53.70" y1="255.15" x2="183.11" y2="255.15" stroke="#8e8e8e" stroke-width="0.8"/>
<line x1="53.70" y1="268.56" x2="183.11" y2="268.56" stroke="#8e8e8e" stroke-width="0.8"/>
<line x1="53.70" y1="281.97" x2="183.11" y2="281.97" stroke="#8e8e8e" stroke-width="0.8"/>
<line x1="53.70" y1="295.38" x2="183.11" y2="295.38" stroke="#8e8e8e" stroke-width="0.8"/>
<line x1="53.70" y1="308.79" x2="183.11" y2="308.79" stroke="#8e8e8e" stroke-width="0.8"/>
<line x1="53.70" y1="322.20" x2="183.11" y2="322.20" stroke="#8e8e8e" stroke-width="0.8"/>
<path d="M58.01 188.10V182.20H66.64V188.10" stroke="#2a2a2a" stroke-width="0.75" fill="none"/>
<path d="M75.27 188.10V185.20H83.89V188.10" stroke="#2a2a2a" stroke-width="0.75" fill="none"/>
<path d="M170.16 188.10V185.70H178.79V188.10" stroke="#2a2a2a" stroke-width="0.75" fill="none"/>
<path d="M161.54 188.10V185.10H174.48V185.70" stroke="#2a2a2a" stroke-width="0.75" fill="none"/>
<path d="M152.91 188.10V184.50H168.01V185.10" stroke="#2a2a2a" stroke-width="0.75" fill="none"/>
<path d="M144.28 188.10V184.00H160.46V184.50" stroke="#2a2a2a" stroke-width="0.75" fill="none"/>
<path d="M127.03 188.10V186.10H135.66V188.10" stroke="#2a2a2a" stroke-width="0.75" fill="none"/>
<path d="M118.40 188.10V184.40H131.34V186.10" stroke="#2a2a2a" stroke-width="0.75" fill="none"/>
<path d="M124.87 184.40V183.40H152.37V184.00" stroke="#2a2a2a" stroke-width="0.75" fill="none"/>
<path d="M109.78 188.10V181.60H138.62V183.40" stroke="#2a2a2a" stroke-width="0.75" fill="none"/>
<path d="M101.15 188.10V179.90H124.20V181.60" stroke="#2a2a2a" stroke-width="0.75" fill="none"/>
<path d="M92.52 188.10V177.50H112.67V179.90" stroke="#2a2a2a" stroke-width="0.75" fill="none"/>
<path d="M79.58 185.20V173.10H102.60V177.50" stroke="#2a2a2a" stroke-width="0.75" fill="none"/>
<path d="M62.33 182.20V170.40H91.09V173.10" stroke="#2a2a2a" stroke-width="0.75" fill="none"/>
<text x="186.30" y="187.60" font-size="5.2" textLength="39.50" lengthAdjust="spacingAndGlyphs">Bacterial Genera</text>
<line x1="186.00" y1="189.70" x2="227.10" y2="189.70" stroke="#777" stroke-width="1.1"/>
<text x="186.30" y="198.40" font-size="5.2">Cutibacterium</text>
<text x="186.30" y="211.70" font-size="5.2">Corynebacterium</text>
<text x="186.30" y="225.00" font-size="5.2">Staphylococcus</text>
<text x="186.30" y="238.30" font-size="5.2">Bradyrhizobium</text>
<text x="186.30" y="251.60" font-size="5.2">Pseudomonas</text>
<text x="186.30" y="264.90" font-size="5.2">Achromobacter</text>
<text x="186.30" y="278.20" font-size="5.2">Streptococcus</text>
<text x="186.30" y="291.50" font-size="5.2">Ensifer</text>
<text x="186.30" y="304.80" font-size="5.2">Acinetobacter</text>
<text x="186.30" y="318.10" font-size="5.2">Escherichia</text>
<rect x="38.80" y="192.40" width="3.50" height="51.70" fill="url(#cbar)"/>
<text x="43.80" y="201.30" font-size="5.3">0.8</text>
<text x="43.80" y="212.40" font-size="5.3">0.6</text>
<text x="43.80" y="223.50" font-size="5.3">0.4</text>
<text x="43.80" y="234.60" font-size="5.3">0.2</text>
<text x="43.80" y="245.70" font-size="5.3">0</text>
<text x="26.50" y="220.80" font-size="6.0" text-anchor="middle" textLength="52.20" lengthAdjust="spacingAndGlyphs" transform="rotate(-90 26.50 220.80)" style="stroke-width:0.03px">Genera relative abundance</text>
<text x="34.90" y="220.80" font-size="6.0" text-anchor="middle" textLength="17.50" lengthAdjust="spacingAndGlyphs" transform="rotate(-90 34.90 220.80)" style="stroke-width:0.03px">of reads</text>
<rect x="54.70" y="326.80" width="7.23" height="18.10" fill="#b0102e"/>
<rect x="63.33" y="344.90" width="7.23" height="0.00" fill="#b0102e"/>
<rect x="71.95" y="325.70" width="7.23" height="19.20" fill="#b0102e"/>
<rect x="80.58" y="328.70" width="7.23" height="16.20" fill="#b0102e"/>
<rect x="89.21" y="343.80" width="7.23" height="1.10" fill="#b0102e"/>
<rect x="97.84" y="341.00" width="7.23" height="3.90" fill="#b0102e"/>
<rect x="106.46" y="334.00" width="7.23" height="10.90" fill="#b0102e"/>
<rect x="115.09" y="341.80" width="7.23" height="3.10" fill="#b0102e"/>
<rect x="123.72" y="339.50" width="7.23" height="5.40" fill="#b0102e"/>
<rect x="132.34" y="342.90" width="7.23" height="2.00" fill="#b0102e"/>
<rect x="140.97" y="332.90" width="7.23" height="12.00" fill="#b0102e"/>
<rect x="149.60" y="341.00" width="7.23" height="3.90" fill="#b0102e"/>
<rect x="158.22" y="343.00" width="7.23" height="1.90" fill="#b0102e"/>
<rect x="166.85" y="343.00" width="7.23" height="1.90" fill="#b0102e"/>
<rect x="175.48" y="342.20" width="7.23" height="2.70" fill="#b0102e"/>
<line x1="53.50" y1="324.60" x2="53.50" y2="345.40" stroke="#222" stroke-width="0.9"/>
<line x1="53.00" y1="345.20" x2="185.70" y2="345.20" stroke="#222" stroke-width="1.0"/>
<line x1="51.50" y1="325.10" x2="53.50" y2="325.10" stroke="#222" stroke-width="0.7"/>
<text x="47.60" y="327.00" font-size="5.6" text-anchor="end">1000</text>
<line x1="51.50" y1="329.80" x2="53.50" y2="329.80" stroke="#222" stroke-width="0.7"/>
<text x="47.60" y="331.70" font-size="5.6" text-anchor="end">750</text>
<line x1="51.50" y1="334.50" x2="53.50" y2="334.50" stroke="#222" stroke-width="0.7"/>
<text x="47.60" y="336.40" font-size="5.6" text-anchor="end">500</text>
<line x1="51.50" y1="339.20" x2="53.50" y2="339.20" stroke="#222" stroke-width="0.7"/>
<text x="47.60" y="341.10" font-size="5.6" text-anchor="end">250</text>
<line x1="51.50" y1="343.90" x2="53.50" y2="343.90" stroke="#222" stroke-width="0.7"/>
<text x="47.60" y="345.80" font-size="5.6" text-anchor="end">0</text>
<text x="22.60" y="334.50" font-size="6.0" text-anchor="middle" textLength="31.60" lengthAdjust="spacingAndGlyphs" transform="rotate(-90 22.60 334.50)" style="stroke-width:0.03px">Total number of</text>
<text x="32.10" y="334.50" font-size="6.0" text-anchor="middle" textLength="28.40" lengthAdjust="spacingAndGlyphs" transform="rotate(-90 32.10 334.50)" style="stroke-width:0.03px">bacterial reads</text>
<text x="59.96" y="346.90" font-size="5.45" text-anchor="end" transform="rotate(-90 59.96 346.90)" style="stroke-width:0.03px">CTCL8</text>
<text x="68.59" y="346.90" font-size="5.45" text-anchor="end" transform="rotate(-90 68.59 346.90)" style="stroke-width:0.03px">BPDCN6</text>
<text x="77.22" y="346.90" font-size="5.45" text-anchor="end" transform="rotate(-90 77.22 346.90)" style="stroke-width:0.03px">Ctrl5</text>
<text x="85.84" y="346.90" font-size="5.45" text-anchor="end" transform="rotate(-90 85.84 346.90)" style="stroke-width:0.03px">BPDCN4</text>
<text x="94.47" y="346.90" font-size="5.45" text-anchor="end" transform="rotate(-90 94.47 346.90)" style="stroke-width:0.03px">CTCL7</text>
<text x="103.10" y="346.90" font-size="5.45" text-anchor="end" transform="rotate(-90 103.10 346.90)" style="stroke-width:0.03px">BPDCN2</text>
<text x="111.73" y="346.90" font-size="5.45" text-anchor="end" transform="rotate(-90 111.73 346.90)" style="stroke-width:0.03px">CTCL9</text>
<text x="120.35" y="346.90" font-size="5.45" text-anchor="end" transform="rotate(-90 120.35 346.90)" style="stroke-width:0.03px">BPDCN10</text>
<text x="128.98" y="346.90" font-size="5.45" text-anchor="end" transform="rotate(-90 128.98 346.90)" style="stroke-width:0.03px">Ctrl2</text>
<text x="137.61" y="346.90" font-size="5.45" text-anchor="end" transform="rotate(-90 137.61 346.90)" style="stroke-width:0.03px">Ctrl4b</text>
<text x="146.23" y="346.90" font-size="5.45" text-anchor="end" transform="rotate(-90 146.23 346.90)" style="stroke-width:0.03px">CTCL10</text>
<text x="154.86" y="346.90" font-size="5.45" text-anchor="end" transform="rotate(-90 154.86 346.90)" style="stroke-width:0.03px">Ctrl3</text>
<text x="163.49" y="346.90" font-size="5.45" text-anchor="end" transform="rotate(-90 163.49 346.90)" style="stroke-width:0.03px">CTCL6</text>
<text x="172.11" y="346.90" font-size="5.45" text-anchor="end" transform="rotate(-90 172.11 346.90)" style="stroke-width:0.03px">Ctrl4a</text>
<text x="180.74" y="346.90" font-size="5.45" text-anchor="end" transform="rotate(-90 180.74 346.90)" style="stroke-width:0.03px">BPDCN8</text>
<text x="246.90" y="152.70" font-size="12" font-weight="bold" fill="#000" style="stroke:#000;stroke-width:0.45px">D</text>
<text x="260.60" y="164.80" font-size="7.4" textLength="150.30" lengthAdjust="spacingAndGlyphs">mRNA Expression Clustering of Skin Biopsies</text>
<rect x="258.50" y="197.00" width="8.62" height="2.05" fill="#d8e4f3"/>
<rect x="267.07" y="197.00" width="8.62" height="2.05" fill="#f4f7fc"/>
<rect x="275.65" y="197.00" width="8.62" height="2.05" fill="#d8e4f3"/>
<rect x="284.22" y="197.00" width="8.62" height="2.05" fill="#c2d5ec"/>
<rect x="292.79" y="197.00" width="8.62" height="2.05" fill="#d8e4f3"/>
<rect x="301.37" y="197.00" width="8.62" height="2.05" fill="#88aedb"/>
<rect x="309.94" y="197.00" width="8.62" height="2.05" fill="#3468b2"/>
<rect x="318.51" y="197.00" width="8.62" height="2.05" fill="#6b99d0"/>
<rect x="327.08" y="197.00" width="8.62" height="2.05" fill="#5084c4"/>
<rect x="335.66" y="197.00" width="8.62" height="2.05" fill="#d8e4f3"/>
<rect x="344.23" y="197.00" width="8.62" height="2.05" fill="#d8e4f3"/>
<rect x="352.80" y="197.00" width="8.62" height="2.05" fill="#a5c2e3"/>
<rect x="361.38" y="197.00" width="8.62" height="2.05" fill="#a5c2e3"/>
<rect x="369.95" y="197.00" width="8.62" height="2.05" fill="#a5c2e3"/>
<rect x="378.52" y="197.00" width="8.62" height="2.05" fill="#a5c2e3"/>
<rect x="258.50" y="199.00" width="8.62" height="2.05" fill="#d8e4f3"/>
<rect x="267.07" y="199.00" width="8.62" height="2.05" fill="#e7eef8"/>
<rect x="275.65" y="199.00" width="8.62" height="2.05" fill="#d8e4f3"/>
<rect x="284.22" y="199.00" width="8.62" height="2.05" fill="#d8e4f3"/>
<rect x="292.79" y="199.00" width="8.62" height="2.05" fill="#d8e4f3"/>
<rect x="301.37" y="199.00" width="8.62" height="2.05" fill="#a5c2e3"/>
<rect x="309.94" y="199.00" width="8.62" height="2.05" fill="#3468b2"/>
<rect x="318.51" y="199.00" width="8.62" height="2.05" fill="#6b99d0"/>
<rect x="327.08" y="199.00" width="8.62" height="2.05" fill="#6b99d0"/>
<rect x="335.66" y="199.00" width="8.62" height="2.05" fill="#d8e4f3"/>
<rect x="344.23" y="199.00" width="8.62" height="2.05" fill="#d8e4f3"/>
<rect x="352.80" y="199.00" width="8.62" height="2.05" fill="#88aedb"/>
<rect x="361.38" y="199.00" width="8.62" height="2.05" fill="#c2d5ec"/>
<rect x="369.95" y="199.00" width="8.62" height="2.05" fill="#c2d5ec"/>
<rect x="378.52" y="199.00" width="8.62" height="2.05" fill="#c2d5ec"/>
<rect x="258.50" y="201.00" width="8.62" height="2.05" fill="#d8e4f3"/>
<rect x="267.07" y="201.00" width="8.62" height="2.05" fill="#f4f7fc"/>
<rect x="275.65" y="201.00" width="8.62" height="2.05" fill="#d8e4f3"/>
<rect x="284.22" y="201.00" width="8.62" height="2.05" fill="#d8e4f3"/>
<rect x="292.79" y="201.00" width="8.62" height="2.05" fill="#d8e4f3"/>
<rect x="301.37" y="201.00" width="8.62" height="2.05" fill="#3468b2"/>
<rect x="309.94" y="201.00" width="8.62" height="2.05" fill="#c2d5ec"/>
<rect x="318.51" y="201.00" width="8.62" height="2.05" fill="#6b99d0"/>
<rect x="327.08" y="201.00" width="8.62" height="2.05" fill="#a5c2e3"/>
<rect x="335.66" y="201.00" width="8.62" height="2.05" fill="#d8e4f3"/>
<rect x="344.23" y="201.00" width="8.62" height="2.05" fill="#d8e4f3"/>
<rect x="352.80" y="201.00" width="8.62" height="2.05" fill="#c2d5ec"/>
<rect x="361.38" y="201.00" width="8.62" height="2.05" fill="#a5c2e3"/>
<rect x="369.95" y="201.00" width="8.62" height="2.05" fill="#c2d5ec"/>
<rect x="378.52" y="201.00" width="8.62" height="2.05" fill="#a5c2e3"/>
<rect x="258.50" y="203.00" width="8.62" height="2.05" fill="#d8e4f3"/>
<rect x="267.07" y="203.00" width="8.62" height="2.05" fill="#e7eef8"/>
<rect x="275.65" y="203.00" width="8.62" height="2.05" fill="#d8e4f3"/>
<rect x="284.22" y="203.00" width="8.62" height="2.05" fill="#d8e4f3"/>
<rect x="292.79" y="203.00" width="8.62" height="2.05" fill="#d8e4f3"/>
<rect x="301.37" y="203.00" width="8.62" height="2.05" fill="#88aedb"/>
<rect x="309.94" y="203.00" width="8.62" height="2.05" fill="#a5c2e3"/>
<rect x="318.51" y="203.00" width="8.62" height="2.05" fill="#6b99d0"/>
<rect x="327.08" y="203.00" width="8.62" height="2.05" fill="#5084c4"/>
<rect x="335.66" y="203.00" width="8.62" height="2.05" fill="#d8e4f3"/>
<rect x="344.23" y="203.00" width="8.62" height="2.05" fill="#d8e4f3"/>
<rect x="352.80" y="203.00" width="8.62" height="2.05" fill="#5084c4"/>
<rect x="361.38" y="203.00" width="8.62" height="2.05" fill="#c2d5ec"/>
<rect x="369.95" y="203.00" width="8.62" height="2.05" fill="#d8e4f3"/>
<rect x="378.52" y="203.00" width="8.62" height="2.05" fill="#c2d5ec"/>
<rect x="258.50" y="205.00" width="8.62" height="2.05" fill="#c2d5ec"/>
<rect x="267.07" y="205.00" width="8.62" height="2.05" fill="#d8e4f3"/>
<rect x="275.65" y="205.00" width="8.62" height="2.05" fill="#c2d5ec"/>
<rect x="284.22" y="205.00" width="8.62" height="2.05" fill="#d8e4f3"/>
<rect x="292.79" y="205.00" width="8.62" height="2.05" fill="#d8e4f3"/>
<rect x="301.37" y="205.00" width="8.62" height="2.05" fill="#88aedb"/>
<rect x="309.94" y="205.00" width="8.62" height="2.05" fill="#6b99d0"/>
<rect x="318.51" y="205.00" width="8.62" height="2.05" fill="#a5c2e3"/>
<rect x="327.08" y="205.00" width="8.62" height="2.05" fill="#3468b2"/>
<rect x="335.66" y="205.00" width="8.62" height="2.05" fill="#c2d5ec"/>
<rect x="344.23" y="205.00" width="8.62" height="2.05" fill="#d8e4f3"/>
<rect x="352.80" y="205.00" width="8.62" height="2.05" fill="#c2d5ec"/>
<rect x="361.38" y="205.00" width="8.62" height="2.05" fill="#c2d5ec"/>
<rect x="369.95" y="205.00" width="8.62" height="2.05" fill="#c2d5ec"/>
<rect x="378.52" y="205.00" width="8.62" height="2.05" fill="#c2d5ec"/>
<rect x="258.50" y="207.00" width="8.62" height="2.05" fill="#d8e4f3"/>
<rect x="267.07" y="207.00" width="8.62" height="2.05" fill="#f4f7fc"/>
<rect x="275.65" y="207.00" width="8.62" height="2.05" fill="#d8e4f3"/>
<rect x="284.22" y="207.00" width="8.62" height="2.05" fill="#d8e4f3"/>
<rect x="292.79" y="207.00" width="8.62" height="2.05" fill="#d8e4f3"/>
<rect x="301.37" y="207.00" width="8.62" height="2.05" fill="#3468b2"/>
<rect x="309.94" y="207.00" width="8.62" height="2.05" fill="#a5c2e3"/>
<rect x="318.51" y="207.00" width="8.62" height="2.05" fill="#88aedb"/>
<rect x="327.08" y="207.00" width="8.62" height="2.05" fill="#88aedb"/>
<rect x="335.66" y="207.00" width="8.62" height="2.05" fill="#d8e4f3"/>
<rect x="344.23" y="207.00" width="8.62" height="2.05" fill="#d8e4f3"/>
<rect x="352.80" y="207.00" width="8.62" height="2.05" fill="#a5c2e3"/>
<rect x="361.38" y="207.00" width="8.62" height="2.05" fill="#a5c2e3"/>
<rect x="369.95" y="207.00" width="8.62" height="2.05" fill="#c2d5ec"/>
<rect x="378.52" y="207.00" width="8.62" height="2.05" fill="#88aedb"/>
<rect x="258.50" y="209.00" width="8.62" height="2.05" fill="#d8e4f3"/>
<rect x="267.07" y="209.00" width="8.62" height="2.05" fill="#c2d5ec"/>
<rect x="275.65" y="209.00" width="8.62" height="2.05" fill="#d8e4f3"/>
<rect x="284.22" y="209.00" width="8.62" height="2.05" fill="#d8e4f3"/>
<rect x="292.79" y="209.00" width="8.62" height="2.05" fill="#d8e4f3"/>
<rect x="301.37" y="209.00" width="8.62" height="2.05" fill="#5084c4"/>
<rect x="309.94" y="209.00" width="8.62" height="2.05" fill="#88aedb"/>
<rect x="318.51" y="209.00" width="8.62" height="2.05" fill="#3468b2"/>
<rect x="327.08" y="209.00" width="8.62" height="2.05" fill="#5084c4"/>
<rect x="335.66" y="209.00" width="8.62" height="2.05" fill="#d8e4f3"/>
<rect x="344.23" y="209.00" width="8.62" height="2.05" fill="#d8e4f3"/>
<rect x="352.80" y="209.00" width="8.62" height="2.05" fill="#c2d5ec"/>
<rect x="361.38" y="209.00" width="8.62" height="2.05" fill="#d8e4f3"/>
<rect x="369.95" y="209.00" width="8.62" height="2.05" fill="#e7eef8"/>
<rect x="378.52" y="209.00" width="8.62" height="2.05" fill="#d8e4f3"/>
<rect x="258.50" y="211.00" width="8.62" height="2.05" fill="#d8e4f3"/>
<rect x="267.07" y="211.00" width="8.62" height="2.05" fill="#d8e4f3"/>
<rect x="275.65" y="211.00" width="8.62" height="2.05" fill="#d8e4f3"/>
<rect x="284.22" y="211.00" width="8.62" height="2.05" fill="#d8e4f3"/>
<rect x="292.79" y="211.00" width="8.62" height="2.05" fill="#d8e4f3"/>
<rect x="301.37" y="211.00" width="8.62" height="2.05" fill="#6b99d0"/>
<rect x="309.94" y="211.00" width="8.62" height="2.05" fill="#c2d5ec"/>
<rect x="318.51" y="211.00" width="8.62" height="2.05" fill="#224f9e"/>
<rect x="327.08" y="211.00" width="8.62" height="2.05" fill="#3468b2"/>
<rect x="335.66" y="211.00" width="8.62" height="2.05" fill="#d8e4f3"/>
<rect x="344.23" y="211.00" width="8.62" height="2.05" fill="#d8e4f3"/>
<rect x="352.80" y="211.00" width="8.62" height="2.05" fill="#d8e4f3"/>
<rect x="361.38" y="211.00" width="8.62" height="2.05" fill="#c2d5ec"/>
<rect x="369.95" y="211.00" width="8.62" height="2.05" fill="#c2d5ec"/>
<rect x="378.52" y="211.00" width="8.62" height="2.05" fill="#d8e4f3"/>
<rect x="258.50" y="213.00" width="8.62" height="2.05" fill="#d8e4f3"/>
<rect x="267.07" y="213.00" width="8.62" height="2.05" fill="#d8e4f3"/>
<rect x="275.65" y="213.00" width="8.62" height="2.05" fill="#d8e4f3"/>
<rect x="284.22" y="213.00" width="8.62" height="2.05" fill="#d8e4f3"/>
<rect x="292.79" y="213.00" width="8.62" height="2.05" fill="#d8e4f3"/>
<rect x="301.37" y="213.00" width="8.62" height="2.05" fill="#5084c4"/>
<rect x="309.94" y="213.00" width="8.62" height="2.05" fill="#88aedb"/>
<rect x="318.51" y="213.00" width="8.62" height="2.05" fill="#6b99d0"/>
<rect x="327.08" y="213.00" width="8.62" height="2.05" fill="#3468b2"/>
<rect x="335.66" y="213.00" width="8.62" height="2.05" fill="#d8e4f3"/>
<rect x="344.23" y="213.00" width="8.62" height="2.05" fill="#d8e4f3"/>
<rect x="352.80" y="213.00" width="8.62" height="2.05" fill="#88aedb"/>
<rect x="361.38" y="213.00" width="8.62" height="2.05" fill="#c2d5ec"/>
<rect x="369.95" y="213.00" width="8.62" height="2.05" fill="#d8e4f3"/>
<rect x="378.52" y="213.00" width="8.62" height="2.05" fill="#d8e4f3"/>
<rect x="258.50" y="215.00" width="8.62" height="2.05" fill="#d8e4f3"/>
<rect x="267.07" y="215.00" width="8.62" height="2.05" fill="#d8e4f3"/>
<rect x="275.65" y="215.00" width="8.62" height="2.05" fill="#d8e4f3"/>
<rect x="284.22" y="215.00" width="8.62" height="2.05" fill="#d8e4f3"/>
<rect x="292.79" y="215.00" width="8.62" height="2.05" fill="#d8e4f3"/>
<rect x="301.37" y="215.00" width="8.62" height="2.05" fill="#3468b2"/>
<rect x="309.94" y="215.00" width="8.62" height="2.05" fill="#a5c2e3"/>
<rect x="318.51" y="215.00" width="8.62" height="2.05" fill="#88aedb"/>
<rect x="327.08" y="215.00" width="8.62" height="2.05" fill="#3468b2"/>
<rect x="335.66" y="215.00" width="8.62" height="2.05" fill="#d8e4f3"/>
<rect x="344.23" y="215.00" width="8.62" height="2.05" fill="#d8e4f3"/>
<rect x="352.80" y="215.00" width="8.62" height="2.05" fill="#c2d5ec"/>
<rect x="361.38" y="215.00" width="8.62" height="2.05" fill="#d8e4f3"/>
<rect x="369.95" y="215.00" width="8.62" height="2.05" fill="#d8e4f3"/>
<rect x="378.52" y="215.00" width="8.62" height="2.05" fill="#d8e4f3"/>
<rect x="258.50" y="217.00" width="8.62" height="2.05" fill="#d8e4f3"/>
<rect x="267.07" y="217.00" width="8.62" height="2.05" fill="#d8e4f3"/>
<rect x="275.65" y="217.00" width="8.62" height="2.05" fill="#d8e4f3"/>
<rect x="284.22" y="217.00" width="8.62" height="2.05" fill="#d8e4f3"/>
<rect x="292.79" y="217.00" width="8.62" height="2.05" fill="#d8e4f3"/>
<rect x="301.37" y="217.00" width="8.62" height="2.05" fill="#5084c4"/>
<rect x="309.94" y="217.00" width="8.62" height="2.05" fill="#a5c2e3"/>
<rect x="318.51" y="217.00" width="8.62" height="2.05" fill="#6b99d0"/>
<rect x="327.08" y="217.00" width="8.62" height="2.05" fill="#5084c4"/>
<rect x="335.66" y="217.00" width="8.62" height="2.05" fill="#d8e4f3"/>
<rect x="344.23" y="217.00" width="8.62" height="2.05" fill="#d8e4f3"/>
<rect x="352.80" y="217.00" width="8.62" height="2.05" fill="#6b99d0"/>
<rect x="361.38" y="217.00" width="8.62" height="2.05" fill="#c2d5ec"/>
<rect x="369.95" y="217.00" width="8.62" height="2.05" fill="#d8e4f3"/>
<rect x="378.52" y="217.00" width="8.62" height="2.05" fill="#d8e4f3"/>
<rect x="258.50" y="219.00" width="8.62" height="2.05" fill="#d8e4f3"/>
<rect x="267.07" y="219.00" width="8.62" height="2.05" fill="#d8e4f3"/>
<rect x="275.65" y="219.00" width="8.62" height="2.05" fill="#d8e4f3"/>
<rect x="284.22" y="219.00" width="8.62" height="2.05" fill="#d8e4f3"/>
<rect x="292.79" y="219.00" width="8.62" height="2.05" fill="#c2d5ec"/>
<rect x="301.37" y="219.00" width="8.62" height="2.05" fill="#6b99d0"/>
<rect x="309.94" y="219.00" width="8.62" height="2.05" fill="#224f9e"/>
<rect x="318.51" y="219.00" width="8.62" height="2.05" fill="#5084c4"/>
<rect x="327.08" y="219.00" width="8.62" height="2.05" fill="#3468b2"/>
<rect x="335.66" y="219.00" width="8.62" height="2.05" fill="#c2d5ec"/>
<rect x="344.23" y="219.00" width="8.62" height="2.05" fill="#d8e4f3"/>
<rect x="352.80" y="219.00" width="8.62" height="2.05" fill="#d8e4f3"/>
<rect x="361.38" y="219.00" width="8.62" height="2.05" fill="#c2d5ec"/>
<rect x="369.95" y="219.00" width="8.62" height="2.05" fill="#d8e4f3"/>
<rect x="378.52" y="219.00" width="8.62" height="2.05" fill="#d8e4f3"/>
<rect x="258.50" y="221.00" width="8.62" height="2.05" fill="#6b99d0"/>
<rect x="267.07" y="221.00" width="8.62" height="2.05" fill="#88aedb"/>
<rect x="275.65" y="221.00" width="8.62" height="2.05" fill="#a5c2e3"/>
<rect x="284.22" y="221.00" width="8.62" height="2.05" fill="#5084c4"/>
<rect x="292.79" y="221.00" width="8.62" height="2.05" fill="#5084c4"/>
<rect x="301.37" y="221.00" width="8.62" height="2.05" fill="#e7eef8"/>
<rect x="309.94" y="221.00" width="8.62" height="2.05" fill="#e7eef8"/>
<rect x="318.51" y="221.00" width="8.62" height="2.05" fill="#f4f7fc"/>
<rect x="327.08" y="221.00" width="8.62" height="2.05" fill="#e7eef8"/>
<rect x="335.66" y="221.00" width="8.62" height="2.05" fill="#a5c2e3"/>
<rect x="344.23" y="221.00" width="8.62" height="2.05" fill="#d8e4f3"/>
<rect x="352.80" y="221.00" width="8.62" height="2.05" fill="#d8e4f3"/>
<rect x="361.38" y="221.00" width="8.62" height="2.05" fill="#d8e4f3"/>
<rect x="369.95" y="221.00" width="8.62" height="2.05" fill="#d8e4f3"/>
<rect x="378.52" y="221.00" width="8.62" height="2.05" fill="#d8e4f3"/>
<rect x="258.50" y="223.00" width="8.62" height="2.05" fill="#6b99d0"/>
<rect x="267.07" y="223.00" width="8.62" height="2.05" fill="#6b99d0"/>
<rect x="275.65" y="223.00" width="8.62" height="2.05" fill="#a5c2e3"/>
<rect x="284.22" y="223.00" width="8.62" height="2.05" fill="#6b99d0"/>
<rect x="292.79" y="223.00" width="8.62" height="2.05" fill="#6b99d0"/>
<rect x="301.37" y="223.00" width="8.62" height="2.05" fill="#e7eef8"/>
<rect x="309.94" y="223.00" width="8.62" height="2.05" fill="#e7eef8"/>
<rect x="318.51" y="223.00" width="8.62" height="2.05" fill="#e7eef8"/>
<rect x="327.08" y="223.00" width="8.62" height="2.05" fill="#e7eef8"/>
<rect x="335.66" y="223.00" width="8.62" height="2.05" fill="#c2d5ec"/>
<rect x="344.23" y="223.00" width="8.62" height="2.05" fill="#c2d5ec"/>
<rect x="352.80" y="223.00" width="8.62" height="2.05" fill="#e7eef8"/>
<rect x="361.38" y="223.00" width="8.62" height="2.05" fill="#d8e4f3"/>
<rect x="369.95" y="223.00" width="8.62" height="2.05" fill="#c2d5ec"/>
<rect x="378.52" y="223.00" width="8.62" height="2.05" fill="#c2d5ec"/>
<rect x="258.50" y="225.00" width="8.62" height="2.05" fill="#5084c4"/>
<rect x="267.07" y="225.00" width="8.62" height="2.05" fill="#a5c2e3"/>
<rect x="275.65" y="225.00" width="8.62" height="2.05" fill="#88aedb"/>
<rect x="284.22" y="225.00" width="8.62" height="2.05" fill="#5084c4"/>
<rect x="292.79" y="225.00" width="8.62" height="2.05" fill="#6b99d0"/>
<rect x="301.37" y="225.00" width="8.62" height="2.05" fill="#d8e4f3"/>
<rect x="309.94" y="225.00" width="8.62" height="2.05" fill="#d8e4f3"/>
<rect x="318.51" y="225.00" width="8.62" height="2.05" fill="#d8e4f3"/>
<rect x="327.08" y="225.00" width="8.62" height="2.05" fill="#d8e4f3"/>
<rect x="335.66" y="225.00" width="8.62" height="2.05" fill="#d8e4f3"/>
<rect x="344.23" y="225.00" width="8.62" height="2.05" fill="#d8e4f3"/>
<rect x="352.80" y="225.00" width="8.62" height="2.05" fill="#f4f7fc"/>
<rect x="361.38" y="225.00" width="8.62" height="2.05" fill="#d8e4f3"/>
<rect x="369.95" y="225.00" width="8.62" height="2.05" fill="#d8e4f3"/>
<rect x="378.52" y="225.00" width="8.62" height="2.05" fill="#a5c2e3"/>
<rect x="258.50" y="227.00" width="8.62" height="2.05" fill="#c2d5ec"/>
<rect x="267.07" y="227.00" width="8.62" height="2.05" fill="#a5c2e3"/>
<rect x="275.65" y="227.00" width="8.62" height="2.05" fill="#3468b2"/>
<rect x="284.22" y="227.00" width="8.62" height="2.05" fill="#6b99d0"/>
<rect x="292.79" y="227.00" width="8.62" height="2.05" fill="#88aedb"/>
<rect x="301.37" y="227.00" width="8.62" height="2.05" fill="#e7eef8"/>
<rect x="309.94" y="227.00" width="8.62" height="2.05" fill="#d8e4f3"/>
<rect x="318.51" y="227.00" width="8.62" height="2.05" fill="#d8e4f3"/>
<rect x="327.08" y="227.00" width="8.62" height="2.05" fill="#d8e4f3"/>
<rect x="335.66" y="227.00" width="8.62" height="2.05" fill="#c2d5ec"/>
<rect x="344.23" y="227.00" width="8.62" height="2.05" fill="#c2d5ec"/>
<rect x="352.80" y="227.00" width="8.62" height="2.05" fill="#d8e4f3"/>
<rect x="361.38" y="227.00" width="8.62" height="2.05" fill="#d8e4f3"/>
<rect x="369.95" y="227.00" width="8.62" height="2.05" fill="#d8e4f3"/>
<rect x="378.52" y="227.00" width="8.62" height="2.05" fill="#d8e4f3"/>
<rect x="258.50" y="229.00" width="8.62" height="2.05" fill="#c2d5ec"/>
<rect x="267.07" y="229.00" width="8.62" height="2.05" fill="#88aedb"/>
<rect x="275.65" y="229.00" width="8.62" height="2.05" fill="#224f9e"/>
<rect x="284.22" y="229.00" width="8.62" height="2.05" fill="#88aedb"/>
<rect x="292.79" y="229.00" width="8.62" height="2.05" fill="#5084c4"/>
<rect x="301.37" y="229.00" width="8.62" height="2.05" fill="#d8e4f3"/>
<rect x="309.94" y="229.00" width="8.62" height="2.05" fill="#d8e4f3"/>
<rect x="318.51" y="229.00" width="8.62" height="2.05" fill="#d8e4f3"/>
<rect x="327.08" y="229.00" width="8.62" height="2.05" fill="#d8e4f3"/>
<rect x="335.66" y="229.00" width="8.62" height="2.05" fill="#d8e4f3"/>
<rect x="344.23" y="229.00" width="8.62" height="2.05" fill="#d8e4f3"/>
<rect x="352.80" y="229.00" width="8.62" height="2.05" fill="#d8e4f3"/>
<rect x="361.38" y="229.00" width="8.62" height="2.05" fill="#d8e4f3"/>
<rect x="369.95" y="229.00" width="8.62" height="2.05" fill="#d8e4f3"/>
<rect x="378.52" y="229.00" width="8.62" height="2.05" fill="#d8e4f3"/>
<rect x="258.50" y="231.00" width="8.62" height="2.05" fill="#c2d5ec"/>
<rect x="267.07" y="231.00" width="8.62" height="2.05" fill="#88aedb"/>
<rect x="275.65" y="231.00" width="8.62" height="2.05" fill="#224f9e"/>
<rect x="284.22" y="231.00" width="8.62" height="2.05" fill="#6b99d0"/>
<rect x="292.79" y="231.00" width="8.62" height="2.05" fill="#5084c4"/>
<rect x="301.37" y="231.00" width="8.62" height="2.05" fill="#d8e4f3"/>
<rect x="309.94" y="231.00" width="8.62" height="2.05" fill="#d8e4f3"/>
<rect x="318.51" y="231.00" width="8.62" height="2.05" fill="#d8e4f3"/>
<rect x="327.08" y="231.00" width="8.62" height="2.05" fill="#d8e4f3"/>
<rect x="335.66" y="231.00" width="8.62" height="2.05" fill="#d8e4f3"/>
<rect x="344.23" y="231.00" width="8.62" height="2.05" fill="#c2d5ec"/>
<rect x="352.80" y="231.00" width="8.62" height="2.05" fill="#d8e4f3"/>
<rect x="361.38" y="231.00" width="8.62" height="2.05" fill="#d8e4f3"/>
<rect x="369.95" y="231.00" width="8.62" height="2.05" fill="#c2d5ec"/>
<rect x="378.52" y="231.00" width="8.62" height="2.05" fill="#d8e4f3"/>
<rect x="258.50" y="233.00" width="8.62" height="2.05" fill="#c2d5ec"/>
<rect x="267.07" y="233.00" width="8.62" height="2.05" fill="#c2d5ec"/>
<rect x="275.65" y="233.00" width="8.62" height="2.05" fill="#5084c4"/>
<rect x="284.22" y="233.00" width="8.62" height="2.05" fill="#3468b2"/>
<rect x="292.79" y="233.00" width="8.62" height="2.05" fill="#3468b2"/>
<rect x="301.37" y="233.00" width="8.62" height="2.05" fill="#d8e4f3"/>
<rect x="309.94" y="233.00" width="8.62" height="2.05" fill="#d8e4f3"/>
<rect x="318.51" y="233.00" width="8.62" height="2.05" fill="#d8e4f3"/>
<rect x="327.08" y="233.00" width="8.62" height="2.05" fill="#d8e4f3"/>
<rect x="335.66" y="233.00" width="8.62" height="2.05" fill="#d8e4f3"/>
<rect x="344.23" y="233.00" width="8.62" height="2.05" fill="#d8e4f3"/>
<rect x="352.80" y="233.00" width="8.62" height="2.05" fill="#e7eef8"/>
<rect x="361.38" y="233.00" width="8.62" height="2.05" fill="#c2d5ec"/>
<rect x="369.95" y="233.00" width="8.62" height="2.05" fill="#d8e4f3"/>
<rect x="378.52" y="233.00" width="8.62" height="2.05" fill="#d8e4f3"/>
<rect x="258.50" y="235.00" width="8.62" height="2.05" fill="#a5c2e3"/>
<rect x="267.07" y="235.00" width="8.62" height="2.05" fill="#a5c2e3"/>
<rect x="275.65" y="235.00" width="8.62" height="2.05" fill="#88aedb"/>
<rect x="284.22" y="235.00" width="8.62" height="2.05" fill="#88aedb"/>
<rect x="292.79" y="235.00" width="8.62" height="2.05" fill="#6b99d0"/>
<rect x="301.37" y="235.00" width="8.62" height="2.05" fill="#e7eef8"/>
<rect x="309.94" y="235.00" width="8.62" height="2.05" fill="#e7eef8"/>
<rect x="318.51" y="235.00" width="8.62" height="2.05" fill="#f4f7fc"/>
<rect x="327.08" y="235.00" width="8.62" height="2.05" fill="#e7eef8"/>
<rect x="335.66" y="235.00" width="8.62" height="2.05" fill="#a5c2e3"/>
<rect x="344.23" y="235.00" width="8.62" height="2.05" fill="#c2d5ec"/>
<rect x="352.80" y="235.00" width="8.62" height="2.05" fill="#d8e4f3"/>
<rect x="361.38" y="235.00" width="8.62" height="2.05" fill="#a5c2e3"/>
<rect x="369.95" y="235.00" width="8.62" height="2.05" fill="#a5c2e3"/>
<rect x="378.52" y="235.00" width="8.62" height="2.05" fill="#d8e4f3"/>
<rect x="258.50" y="237.00" width="8.62" height="2.05" fill="#6b99d0"/>
<rect x="267.07" y="237.00" width="8.62" height="2.05" fill="#d8e4f3"/>
<rect x="275.65" y="237.00" width="8.62" height="2.05" fill="#c2d5ec"/>
<rect x="284.22" y="237.00" width="8.62" height="2.05" fill="#d8e4f3"/>
<rect x="292.79" y="237.00" width="8.62" height="2.05" fill="#c2d5ec"/>
<rect x="301.37" y="237.00" width="8.62" height="2.05" fill="#d8e4f3"/>
<rect x="309.94" y="237.00" width="8.62" height="2.05" fill="#d8e4f3"/>
<rect x="318.51" y="237.00" width="8.62" height="2.05" fill="#c2d5ec"/>
<rect x="327.08" y="237.00" width="8.62" height="2.05" fill="#d8e4f3"/>
<rect x="335.66" y="237.00" width="8.62" height="2.05" fill="#d8e4f3"/>
<rect x="344.23" y="237.00" width="8.62" height="2.05" fill="#a5c2e3"/>
<rect x="352.80" y="237.00" width="8.62" height="2.05" fill="#c2d5ec"/>
<rect x="361.38" y="237.00" width="8.62" height="2.05" fill="#c2d5ec"/>
<rect x="369.95" y="237.00" width="8.62" height="2.05" fill="#a5c2e3"/>
<rect x="378.52" y="237.00" width="8.62" height="2.05" fill="#3468b2"/>
<rect x="258.50" y="239.00" width="8.62" height="2.05" fill="#d8e4f3"/>
<rect x="267.07" y="239.00" width="8.62" height="2.05" fill="#f4f7fc"/>
<rect x="275.65" y="239.00" width="8.62" height="2.05" fill="#d8e4f3"/>
<rect x="284.22" y="239.00" width="8.62" height="2.05" fill="#d8e4f3"/>
<rect x="292.79" y="239.00" width="8.62" height="2.05" fill="#d8e4f3"/>
<rect x="301.37" y="239.00" width="8.62" height="2.05" fill="#d8e4f3"/>
<rect x="309.94" y="239.00" width="8.62" height="2.05" fill="#d8e4f3"/>
<rect x="318.51" y="239.00" width="8.62" height="2.05" fill="#d8e4f3"/>
<rect x="327.08" y="239.00" width="8.62" height="2.05" fill="#d8e4f3"/>
<rect x="335.66" y="239.00" width="8.62" height="2.05" fill="#d8e4f3"/>
<rect x="344.23" y="239.00" width="8.62" height="2.05" fill="#a5c2e3"/>
<rect x="352.80" y="239.00" width="8.62" height="2.05" fill="#5084c4"/>
<rect x="361.38" y="239.00" width="8.62" height="2.05" fill="#88aedb"/>
<rect x="369.95" y="239.00" width="8.62" height="2.05" fill="#a5c2e3"/>
<rect x="378.52" y="239.00" width="8.62" height="2.05" fill="#a5c2e3"/>
<rect x="258.50" y="241.00" width="8.62" height="2.05" fill="#d8e4f3"/>
<rect x="267.07" y="241.00" width="8.62" height="2.05" fill="#d8e4f3"/>
<rect x="275.65" y="241.00" width="8.62" height="2.05" fill="#d8e4f3"/>
<rect x="284.22" y="241.00" width="8.62" height="2.05" fill="#d8e4f3"/>
<rect x="292.79" y="241.00" width="8.62" height="2.05" fill="#d8e4f3"/>
<rect x="301.37" y="241.00" width="8.62" height="2.05" fill="#d8e4f3"/>
<rect x="309.94" y="241.00" width="8.62" height="2.05" fill="#d8e4f3"/>
<rect x="318.51" y="241.00" width="8.62" height="2.05" fill="#d8e4f3"/>
<rect x="327.08" y="241.00" width="8.62" height="2.05" fill="#d8e4f3"/>
<rect x="335.66" y="241.00" width="8.62" height="2.05" fill="#d8e4f3"/>
<rect x="344.23" y="241.00" width="8.62" height="2.05" fill="#c2d5ec"/>
<rect x="352.80" y="241.00" width="8.62" height="2.05" fill="#e7eef8"/>
<rect x="361.38" y="241.00" width="8.62" height="2.05" fill="#a5c2e3"/>
<rect x="369.95" y="241.00" width="8.62" height="2.05" fill="#a5c2e3"/>
<rect x="378.52" y="241.00" width="8.62" height="2.05" fill="#3468b2"/>
<rect x="258.50" y="243.00" width="8.62" height="2.05" fill="#5084c4"/>
<rect x="267.07" y="243.00" width="8.62" height="2.05" fill="#a5c2e3"/>
<rect x="275.65" y="243.00" width="8.62" height="2.05" fill="#6b99d0"/>
<rect x="284.22" y="243.00" width="8.62" height="2.05" fill="#6b99d0"/>
<rect x="292.79" y="243.00" width="8.62" height="2.05" fill="#3468b2"/>
<rect x="301.37" y="243.00" width="8.62" height="2.05" fill="#e7eef8"/>
<rect x="309.94" y="243.00" width="8.62" height="2.05" fill="#e7eef8"/>
<rect x="318.51" y="243.00" width="8.62" height="2.05" fill="#e7eef8"/>
<rect x="327.08" y="243.00" width="8.62" height="2.05" fill="#e7eef8"/>
<rect x="335.66" y="243.00" width="8.62" height="2.05" fill="#d8e4f3"/>
<rect x="344.23" y="243.00" width="8.62" height="2.05" fill="#a5c2e3"/>
<rect x="352.80" y="243.00" width="8.62" height="2.05" fill="#d8e4f3"/>
<rect x="361.38" y="243.00" width="8.62" height="2.05" fill="#d8e4f3"/>
<rect x="369.95" y="243.00" width="8.62" height="2.05" fill="#d8e4f3"/>
<rect x="378.52" y="243.00" width="8.62" height="2.05" fill="#d8e4f3"/>
<rect x="258.50" y="245.00" width="8.62" height="2.05" fill="#6b99d0"/>
<rect x="267.07" y="245.00" width="8.62" height="2.05" fill="#a5c2e3"/>
<rect x="275.65" y="245.00" width="8.62" height="2.05" fill="#88aedb"/>
<rect x="284.22" y="245.00" width="8.62" height="2.05" fill="#6b99d0"/>
<rect x="292.79" y="245.00" width="8.62" height="2.05" fill="#5084c4"/>
<rect x="301.37" y="245.00" width="8.62" height="2.05" fill="#e7eef8"/>
<rect x="309.94" y="245.00" width="8.62" height="2.05" fill="#e7eef8"/>
<rect x="318.51" y="245.00" width="8.62" height="2.05" fill="#e7eef8"/>
<rect x="327.08" y="245.00" width="8.62" height="2.05" fill="#e7eef8"/>
<rect x="335.66" y="245.00" width="8.62" height="2.05" fill="#d8e4f3"/>
<rect x="344.23" y="245.00" width="8.62" height="2.05" fill="#c2d5ec"/>
<rect x="352.80" y="245.00" width="8.62" height="2.05" fill="#d8e4f3"/>
<rect x="361.38" y="245.00" width="8.62" height="2.05" fill="#d8e4f3"/>
<rect x="369.95" y="245.00" width="8.62" height="2.05" fill="#d8e4f3"/>
<rect x="378.52" y="245.00" width="8.62" height="2.05" fill="#c2d5ec"/>
<rect x="258.50" y="247.00" width="8.62" height="2.05" fill="#d8e4f3"/>
<rect x="267.07" y="247.00" width="8.62" height="2.05" fill="#d8e4f3"/>
<rect x="275.65" y="247.00" width="8.62" height="2.05" fill="#d8e4f3"/>
<rect x="284.22" y="247.00" width="8.62" height="2.05" fill="#d8e4f3"/>
<rect x="292.79" y="247.00" width="8.62" height="2.05" fill="#d8e4f3"/>
<rect x="301.37" y="247.00" width="8.62" height="2.05" fill="#6b99d0"/>
<rect x="309.94" y="247.00" width="8.62" height="2.05" fill="#88aedb"/>
<rect x="318.51" y="247.00" width="8.62" height="2.05" fill="#88aedb"/>
<rect x="327.08" y="247.00" width="8.62" height="2.05" fill="#3468b2"/>
<rect x="335.66" y="247.00" width="8.62" height="2.05" fill="#d8e4f3"/>
<rect x="344.23" y="247.00" width="8.62" height="2.05" fill="#d8e4f3"/>
<rect x="352.80" y="247.00" width="8.62" height="2.05" fill="#d8e4f3"/>
<rect x="361.38" y="247.00" width="8.62" height="2.05" fill="#d8e4f3"/>
<rect x="369.95" y="247.00" width="8.62" height="2.05" fill="#d8e4f3"/>
<rect x="378.52" y="247.00" width="8.62" height="2.05" fill="#d8e4f3"/>
<rect x="258.50" y="249.00" width="8.62" height="2.05" fill="#d8e4f3"/>
<rect x="267.07" y="249.00" width="8.62" height="2.05" fill="#d8e4f3"/>
<rect x="275.65" y="249.00" width="8.62" height="2.05" fill="#d8e4f3"/>
<rect x="284.22" y="249.00" width="8.62" height="2.05" fill="#d8e4f3"/>
<rect x="292.79" y="249.00" width="8.62" height="2.05" fill="#d8e4f3"/>
<rect x="301.37" y="249.00" width="8.62" height="2.05" fill="#6b99d0"/>
<rect x="309.94" y="249.00" width="8.62" height="2.05" fill="#88aedb"/>
<rect x="318.51" y="249.00" width="8.62" height="2.05" fill="#88aedb"/>
<rect x="327.08" y="249.00" width="8.62" height="2.05" fill="#5084c4"/>
<rect x="335.66" y="249.00" width="8.62" height="2.05" fill="#d8e4f3"/>
<rect x="344.23" y="249.00" width="8.62" height="2.05" fill="#d8e4f3"/>
<rect x="352.80" y="249.00" width="8.62" height="2.05" fill="#6b99d0"/>
<rect x="361.38" y="249.00" width="8.62" height="2.05" fill="#a5c2e3"/>
<rect x="369.95" y="249.00" width="8.62" height="2.05" fill="#d8e4f3"/>
<rect x="378.52" y="249.00" width="8.62" height="2.05" fill="#d8e4f3"/>
<rect x="258.50" y="251.00" width="8.62" height="2.05" fill="#d8e4f3"/>
<rect x="267.07" y="251.00" width="8.62" height="2.05" fill="#d8e4f3"/>
<rect x="275.65" y="251.00" width="8.62" height="2.05" fill="#d8e4f3"/>
<rect x="284.22" y="251.00" width="8.62" height="2.05" fill="#d8e4f3"/>
<rect x="292.79" y="251.00" width="8.62" height="2.05" fill="#c2d5ec"/>
<rect x="301.37" y="251.00" width="8.62" height="2.05" fill="#5084c4"/>
<rect x="309.94" y="251.00" width="8.62" height="2.05" fill="#a5c2e3"/>
<rect x="318.51" y="251.00" width="8.62" height="2.05" fill="#88aedb"/>
<rect x="327.08" y="251.00" width="8.62" height="2.05" fill="#6b99d0"/>
<rect x="335.66" y="251.00" width="8.62" height="2.05" fill="#d8e4f3"/>
<rect x="344.23" y="251.00" width="8.62" height="2.05" fill="#d8e4f3"/>
<rect x="352.80" y="251.00" width="8.62" height="2.05" fill="#c2d5ec"/>
<rect x="361.38" y="251.00" width="8.62" height="2.05" fill="#d8e4f3"/>
<rect x="369.95" y="251.00" width="8.62" height="2.05" fill="#d8e4f3"/>
<rect x="378.52" y="251.00" width="8.62" height="2.05" fill="#d8e4f3"/>
<rect x="258.50" y="253.00" width="8.62" height="2.05" fill="#d8e4f3"/>
<rect x="267.07" y="253.00" width="8.62" height="2.05" fill="#d8e4f3"/>
<rect x="275.65" y="253.00" width="8.62" height="2.05" fill="#d8e4f3"/>
<rect x="284.22" y="253.00" width="8.62" height="2.05" fill="#d8e4f3"/>
<rect x="292.79" y="253.00" width="8.62" height="2.05" fill="#d8e4f3"/>
<rect x="301.37" y="253.00" width="8.62" height="2.05" fill="#3468b2"/>
<rect x="309.94" y="253.00" width="8.62" height="2.05" fill="#c2d5ec"/>
<rect x="318.51" y="253.00" width="8.62" height="2.05" fill="#5084c4"/>
<rect x="327.08" y="253.00" width="8.62" height="2.05" fill="#88aedb"/>
<rect x="335.66" y="253.00" width="8.62" height="2.05" fill="#d8e4f3"/>
<rect x="344.23" y="253.00" width="8.62" height="2.05" fill="#d8e4f3"/>
<rect x="352.80" y="253.00" width="8.62" height="2.05" fill="#d8e4f3"/>
<rect x="361.38" y="253.00" width="8.62" height="2.05" fill="#d8e4f3"/>
<rect x="369.95" y="253.00" width="8.62" height="2.05" fill="#d8e4f3"/>
<rect x="378.52" y="253.00" width="8.62" height="2.05" fill="#d8e4f3"/>
<rect x="258.50" y="255.00" width="8.62" height="2.05" fill="#d8e4f3"/>
<rect x="267.07" y="255.00" width="8.62" height="2.05" fill="#d8e4f3"/>
<rect x="275.65" y="255.00" width="8.62" height="2.05" fill="#d8e4f3"/>
<rect x="284.22" y="255.00" width="8.62" height="2.05" fill="#d8e4f3"/>
<rect x="292.79" y="255.00" width="8.62" height="2.05" fill="#d8e4f3"/>
<rect x="301.37" y="255.00" width="8.62" height="2.05" fill="#6b99d0"/>
<rect x="309.94" y="255.00" width="8.62" height="2.05" fill="#88aedb"/>
<rect x="318.51" y="255.00" width="8.62" height="2.05" fill="#5084c4"/>
<rect x="327.08" y="255.00" width="8.62" height="2.05" fill="#88aedb"/>
<rect x="335.66" y="255.00" width="8.62" height="2.05" fill="#d8e4f3"/>
<rect x="344.23" y="255.00" width="8.62" height="2.05" fill="#d8e4f3"/>
<rect x="352.80" y="255.00" width="8.62" height="2.05" fill="#d8e4f3"/>
<rect x="361.38" y="255.00" width="8.62" height="2.05" fill="#d8e4f3"/>
<rect x="369.95" y="255.00" width="8.62" height="2.05" fill="#d8e4f3"/>
<rect x="378.52" y="255.00" width="8.62" height="2.05" fill="#d8e4f3"/>
<rect x="258.50" y="257.00" width="8.62" height="2.05" fill="#d8e4f3"/>
<rect x="267.07" y="257.00" width="8.62" height="2.05" fill="#d8e4f3"/>
<rect x="275.65" y="257.00" width="8.62" height="2.05" fill="#d8e4f3"/>
<rect x="284.22" y="257.00" width="8.62" height="2.05" fill="#d8e4f3"/>
<rect x="292.79" y="257.00" width="8.62" height="2.05" fill="#d8e4f3"/>
<rect x="301.37" y="257.00" width="8.62" height="2.05" fill="#88aedb"/>
<rect x="309.94" y="257.00" width="8.62" height="2.05" fill="#a5c2e3"/>
<rect x="318.51" y="257.00" width="8.62" height="2.05" fill="#6b99d0"/>
<rect x="327.08" y="257.00" width="8.62" height="2.05" fill="#6b99d0"/>
<rect x="335.66" y="257.00" width="8.62" height="2.05" fill="#d8e4f3"/>
<rect x="344.23" y="257.00" width="8.62" height="2.05" fill="#d8e4f3"/>
<rect x="352.80" y="257.00" width="8.62" height="2.05" fill="#88aedb"/>
<rect x="361.38" y="257.00" width="8.62" height="2.05" fill="#c2d5ec"/>
<rect x="369.95" y="257.00" width="8.62" height="2.05" fill="#d8e4f3"/>
<rect x="378.52" y="257.00" width="8.62" height="2.05" fill="#d8e4f3"/>
<rect x="258.50" y="259.00" width="8.62" height="2.05" fill="#d8e4f3"/>
<rect x="267.07" y="259.00" width="8.62" height="2.05" fill="#d8e4f3"/>
<rect x="275.65" y="259.00" width="8.62" height="2.05" fill="#d8e4f3"/>
<rect x="284.22" y="259.00" width="8.62" height="2.05" fill="#d8e4f3"/>
<rect x="292.79" y="259.00" width="8.62" height="2.05" fill="#c2d5ec"/>
<rect x="301.37" y="259.00" width="8.62" height="2.05" fill="#3468b2"/>
<rect x="309.94" y="259.00" width="8.62" height="2.05" fill="#88aedb"/>
<rect x="318.51" y="259.00" width="8.62" height="2.05" fill="#88aedb"/>
<rect x="327.08" y="259.00" width="8.62" height="2.05" fill="#88aedb"/>
<rect x="335.66" y="259.00" width="8.62" height="2.05" fill="#d8e4f3"/>
<rect x="344.23" y="259.00" width="8.62" height="2.05" fill="#d8e4f3"/>
<rect x="352.80" y="259.00" width="8.62" height="2.05" fill="#d8e4f3"/>
<rect x="361.38" y="259.00" width="8.62" height="2.05" fill="#c2d5ec"/>
<rect x="369.95" y="259.00" width="8.62" height="2.05" fill="#d8e4f3"/>
<rect x="378.52" y="259.00" width="8.62" height="2.05" fill="#d8e4f3"/>
<rect x="258.50" y="261.00" width="8.62" height="2.05" fill="#d8e4f3"/>
<rect x="267.07" y="261.00" width="8.62" height="2.05" fill="#d8e4f3"/>
<rect x="275.65" y="261.00" width="8.62" height="2.05" fill="#d8e4f3"/>
<rect x="284.22" y="261.00" width="8.62" height="2.05" fill="#d8e4f3"/>
<rect x="292.79" y="261.00" width="8.62" height="2.05" fill="#d8e4f3"/>
<rect x="301.37" y="261.00" width="8.62" height="2.05" fill="#3468b2"/>
<rect x="309.94" y="261.00" width="8.62" height="2.05" fill="#e7eef8"/>
<rect x="318.51" y="261.00" width="8.62" height="2.05" fill="#6b99d0"/>
<rect x="327.08" y="261.00" width="8.62" height="2.05" fill="#a5c2e3"/>
<rect x="335.66" y="261.00" width="8.62" height="2.05" fill="#d8e4f3"/>
<rect x="344.23" y="261.00" width="8.62" height="2.05" fill="#d8e4f3"/>
<rect x="352.80" y="261.00" width="8.62" height="2.05" fill="#c2d5ec"/>
<rect x="361.38" y="261.00" width="8.62" height="2.05" fill="#d8e4f3"/>
<rect x="369.95" y="261.00" width="8.62" height="2.05" fill="#e7eef8"/>
<rect x="378.52" y="261.00" width="8.62" height="2.05" fill="#d8e4f3"/>
<rect x="258.50" y="263.00" width="8.62" height="2.05" fill="#c2d5ec"/>
<rect x="267.07" y="263.00" width="8.62" height="2.05" fill="#e7eef8"/>
<rect x="275.65" y="263.00" width="8.62" height="2.05" fill="#d8e4f3"/>
<rect x="284.22" y="263.00" width="8.62" height="2.05" fill="#d8e4f3"/>
<rect x="292.79" y="263.00" width="8.62" height="2.05" fill="#d8e4f3"/>
<rect x="301.37" y="263.00" width="8.62" height="2.05" fill="#6b99d0"/>
<rect x="309.94" y="263.00" width="8.62" height="2.05" fill="#88aedb"/>
<rect x="318.51" y="263.00" width="8.62" height="2.05" fill="#5084c4"/>
<rect x="327.08" y="263.00" width="8.62" height="2.05" fill="#a5c2e3"/>
<rect x="335.66" y="263.00" width="8.62" height="2.05" fill="#d8e4f3"/>
<rect x="344.23" y="263.00" width="8.62" height="2.05" fill="#c2d5ec"/>
<rect x="352.80" y="263.00" width="8.62" height="2.05" fill="#88aedb"/>
<rect x="361.38" y="263.00" width="8.62" height="2.05" fill="#c2d5ec"/>
<rect x="369.95" y="263.00" width="8.62" height="2.05" fill="#d8e4f3"/>
<rect x="378.52" y="263.00" width="8.62" height="2.05" fill="#c2d5ec"/>
<rect x="258.50" y="265.00" width="8.62" height="2.05" fill="#d8e4f3"/>
<rect x="267.07" y="265.00" width="8.62" height="2.05" fill="#d8e4f3"/>
<rect x="275.65" y="265.00" width="8.62" height="2.05" fill="#d8e4f3"/>
<rect x="284.22" y="265.00" width="8.62" height="2.05" fill="#d8e4f3"/>
<rect x="292.79" y="265.00" width="8.62" height="2.05" fill="#d8e4f3"/>
<rect x="301.37" y="265.00" width="8.62" height="2.05" fill="#6b99d0"/>
<rect x="309.94" y="265.00" width="8.62" height="2.05" fill="#88aedb"/>
<rect x="318.51" y="265.00" width="8.62" height="2.05" fill="#224f9e"/>
<rect x="327.08" y="265.00" width="8.62" height="2.05" fill="#88aedb"/>
<rect x="335.66" y="265.00" width="8.62" height="2.05" fill="#d8e4f3"/>
<rect x="344.23" y="265.00" width="8.62" height="2.05" fill="#d8e4f3"/>
<rect x="352.80" y="265.00" width="8.62" height="2.05" fill="#a5c2e3"/>
<rect x="361.38" y="265.00" width="8.62" height="2.05" fill="#d8e4f3"/>
<rect x="369.95" y="265.00" width="8.62" height="2.05" fill="#c2d5ec"/>
<rect x="378.52" y="265.00" width="8.62" height="2.05" fill="#d8e4f3"/>
<rect x="258.50" y="267.00" width="8.62" height="2.05" fill="#d8e4f3"/>
<rect x="267.07" y="267.00" width="8.62" height="2.05" fill="#e7eef8"/>
<rect x="275.65" y="267.00" width="8.62" height="2.05" fill="#d8e4f3"/>
<rect x="284.22" y="267.00" width="8.62" height="2.05" fill="#d8e4f3"/>
<rect x="292.79" y="267.00" width="8.62" height="2.05" fill="#d8e4f3"/>
<rect x="301.37" y="267.00" width="8.62" height="2.05" fill="#88aedb"/>
<rect x="309.94" y="267.00" width="8.62" height="2.05" fill="#a5c2e3"/>
<rect x="318.51" y="267.00" width="8.62" height="2.05" fill="#88aedb"/>
<rect x="327.08" y="267.00" width="8.62" height="2.05" fill="#3468b2"/>
<rect x="335.66" y="267.00" width="8.62" height="2.05" fill="#d8e4f3"/>
<rect x="344.23" y="267.00" width="8.62" height="2.05" fill="#d8e4f3"/>
<rect x="352.80" y="267.00" width="8.62" height="2.05" fill="#c2d5ec"/>
<rect x="361.38" y="267.00" width="8.62" height="2.05" fill="#d8e4f3"/>
<rect x="369.95" y="267.00" width="8.62" height="2.05" fill="#d8e4f3"/>
<rect x="378.52" y="267.00" width="8.62" height="2.05" fill="#c2d5ec"/>
<rect x="258.50" y="269.00" width="8.62" height="2.05" fill="#d8e4f3"/>
<rect x="267.07" y="269.00" width="8.62" height="2.05" fill="#d8e4f3"/>
<rect x="275.65" y="269.00" width="8.62" height="2.05" fill="#d8e4f3"/>
<rect x="284.22" y="269.00" width="8.62" height="2.05" fill="#d8e4f3"/>
<rect x="292.79" y="269.00" width="8.62" height="2.05" fill="#d8e4f3"/>
<rect x="301.37" y="269.00" width="8.62" height="2.05" fill="#a5c2e3"/>
<rect x="309.94" y="269.00" width="8.62" height="2.05" fill="#88aedb"/>
<rect x="318.51" y="269.00" width="8.62" height="2.05" fill="#88aedb"/>
<rect x="327.08" y="269.00" width="8.62" height="2.05" fill="#5084c4"/>
<rect x="335.66" y="269.00" width="8.62" height="2.05" fill="#d8e4f3"/>
<rect x="344.23" y="269.00" width="8.62" height="2.05" fill="#d8e4f3"/>
<rect x="352.80" y="269.00" width="8.62" height="2.05" fill="#6b99d0"/>
<rect x="361.38" y="269.00" width="8.62" height="2.05" fill="#a5c2e3"/>
<rect x="369.95" y="269.00" width="8.62" height="2.05" fill="#d8e4f3"/>
<rect x="378.52" y="269.00" width="8.62" height="2.05" fill="#d8e4f3"/>
<rect x="258.50" y="271.00" width="8.62" height="2.05" fill="#c2d5ec"/>
<rect x="267.07" y="271.00" width="8.62" height="2.05" fill="#d8e4f3"/>
<rect x="275.65" y="271.00" width="8.62" height="2.05" fill="#d8e4f3"/>
<rect x="284.22" y="271.00" width="8.62" height="2.05" fill="#d8e4f3"/>
<rect x="292.79" y="271.00" width="8.62" height="2.05" fill="#d8e4f3"/>
<rect x="301.37" y="271.00" width="8.62" height="2.05" fill="#a5c2e3"/>
<rect x="309.94" y="271.00" width="8.62" height="2.05" fill="#6b99d0"/>
<rect x="318.51" y="271.00" width="8.62" height="2.05" fill="#a5c2e3"/>
<rect x="327.08" y="271.00" width="8.62" height="2.05" fill="#88aedb"/>
<rect x="335.66" y="271.00" width="8.62" height="2.05" fill="#d8e4f3"/>
<rect x="344.23" y="271.00" width="8.62" height="2.05" fill="#c2d5ec"/>
<rect x="352.80" y="271.00" width="8.62" height="2.05" fill="#3468b2"/>
<rect x="361.38" y="271.00" width="8.62" height="2.05" fill="#88aedb"/>
<rect x="369.95" y="271.00" width="8.62" height="2.05" fill="#a5c2e3"/>
<rect x="378.52" y="271.00" width="8.62" height="2.05" fill="#d8e4f3"/>
<rect x="258.50" y="273.00" width="8.62" height="2.05" fill="#d8e4f3"/>
<rect x="267.07" y="273.00" width="8.62" height="2.05" fill="#d8e4f3"/>
<rect x="275.65" y="273.00" width="8.62" height="2.05" fill="#d8e4f3"/>
<rect x="284.22" y="273.00" width="8.62" height="2.05" fill="#c2d5ec"/>
<rect x="292.79" y="273.00" width="8.62" height="2.05" fill="#d8e4f3"/>
<rect x="301.37" y="273.00" width="8.62" height="2.05" fill="#88aedb"/>
<rect x="309.94" y="273.00" width="8.62" height="2.05" fill="#c2d5ec"/>
<rect x="318.51" y="273.00" width="8.62" height="2.05" fill="#c2d5ec"/>
<rect x="327.08" y="273.00" width="8.62" height="2.05" fill="#88aedb"/>
<rect x="335.66" y="273.00" width="8.62" height="2.05" fill="#d8e4f3"/>
<rect x="344.23" y="273.00" width="8.62" height="2.05" fill="#c2d5ec"/>
<rect x="352.80" y="273.00" width="8.62" height="2.05" fill="#5084c4"/>
<rect x="361.38" y="273.00" width="8.62" height="2.05" fill="#a5c2e3"/>
<rect x="369.95" y="273.00" width="8.62" height="2.05" fill="#88aedb"/>
<rect x="378.52" y="273.00" width="8.62" height="2.05" fill="#a5c2e3"/>
<rect x="258.50" y="275.00" width="8.62" height="2.05" fill="#d8e4f3"/>
<rect x="267.07" y="275.00" width="8.62" height="2.05" fill="#d8e4f3"/>
<rect x="275.65" y="275.00" width="8.62" height="2.05" fill="#c2d5ec"/>
<rect x="284.22" y="275.00" width="8.62" height="2.05" fill="#d8e4f3"/>
<rect x="292.79" y="275.00" width="8.62" height="2.05" fill="#d8e4f3"/>
<rect x="301.37" y="275.00" width="8.62" height="2.05" fill="#a5c2e3"/>
<rect x="309.94" y="275.00" width="8.62" height="2.05" fill="#88aedb"/>
<rect x="318.51" y="275.00" width="8.62" height="2.05" fill="#a5c2e3"/>
<rect x="327.08" y="275.00" width="8.62" height="2.05" fill="#a5c2e3"/>
<rect x="335.66" y="275.00" width="8.62" height="2.05" fill="#d8e4f3"/>
<rect x="344.23" y="275.00" width="8.62" height="2.05" fill="#d8e4f3"/>
<rect x="352.80" y="275.00" width="8.62" height="2.05" fill="#3468b2"/>
<rect x="361.38" y="275.00" width="8.62" height="2.05" fill="#c2d5ec"/>
<rect x="369.95" y="275.00" width="8.62" height="2.05" fill="#88aedb"/>
<rect x="378.52" y="275.00" width="8.62" height="2.05" fill="#d8e4f3"/>
<rect x="258.50" y="277.00" width="8.62" height="2.05" fill="#d8e4f3"/>
<rect x="267.07" y="277.00" width="8.62" height="2.05" fill="#d8e4f3"/>
<rect x="275.65" y="277.00" width="8.62" height="2.05" fill="#d8e4f3"/>
<rect x="284.22" y="277.00" width="8.62" height="2.05" fill="#d8e4f3"/>
<rect x="292.79" y="277.00" width="8.62" height="2.05" fill="#d8e4f3"/>
<rect x="301.37" y="277.00" width="8.62" height="2.05" fill="#88aedb"/>
<rect x="309.94" y="277.00" width="8.62" height="2.05" fill="#a5c2e3"/>
<rect x="318.51" y="277.00" width="8.62" height="2.05" fill="#a5c2e3"/>
<rect x="327.08" y="277.00" width="8.62" height="2.05" fill="#6b99d0"/>
<rect x="335.66" y="277.00" width="8.62" height="2.05" fill="#d8e4f3"/>
<rect x="344.23" y="277.00" width="8.62" height="2.05" fill="#c2d5ec"/>
<rect x="352.80" y="277.00" width="8.62" height="2.05" fill="#224f9e"/>
<rect x="361.38" y="277.00" width="8.62" height="2.05" fill="#c2d5ec"/>
<rect x="369.95" y="277.00" width="8.62" height="2.05" fill="#d8e4f3"/>
<rect x="378.52" y="277.00" width="8.62" height="2.05" fill="#d8e4f3"/>
<rect x="258.50" y="279.00" width="8.62" height="2.05" fill="#d8e4f3"/>
<rect x="267.07" y="279.00" width="8.62" height="2.05" fill="#d8e4f3"/>
<rect x="275.65" y="279.00" width="8.62" height="2.05" fill="#d8e4f3"/>
<rect x="284.22" y="279.00" width="8.62" height="2.05" fill="#d8e4f3"/>
<rect x="292.79" y="279.00" width="8.62" height="2.05" fill="#d8e4f3"/>
<rect x="301.37" y="279.00" width="8.62" height="2.05" fill="#6b99d0"/>
<rect x="309.94" y="279.00" width="8.62" height="2.05" fill="#a5c2e3"/>
<rect x="318.51" y="279.00" width="8.62" height="2.05" fill="#a5c2e3"/>
<rect x="327.08" y="279.00" width="8.62" height="2.05" fill="#224f9e"/>
<rect x="335.66" y="279.00" width="8.62" height="2.05" fill="#d8e4f3"/>
<rect x="344.23" y="279.00" width="8.62" height="2.05" fill="#c2d5ec"/>
<rect x="352.80" y="279.00" width="8.62" height="2.05" fill="#d8e4f3"/>
<rect x="361.38" y="279.00" width="8.62" height="2.05" fill="#c2d5ec"/>
<rect x="369.95" y="279.00" width="8.62" height="2.05" fill="#a5c2e3"/>
<rect x="378.52" y="279.00" width="8.62" height="2.05" fill="#d8e4f3"/>
<rect x="258.50" y="281.00" width="8.62" height="2.05" fill="#d8e4f3"/>
<rect x="267.07" y="281.00" width="8.62" height="2.05" fill="#d8e4f3"/>
<rect x="275.65" y="281.00" width="8.62" height="2.05" fill="#d8e4f3"/>
<rect x="284.22" y="281.00" width="8.62" height="2.05" fill="#d8e4f3"/>
<rect x="292.79" y="281.00" width="8.62" height="2.05" fill="#d8e4f3"/>
<rect x="301.37" y="281.00" width="8.62" height="2.05" fill="#a5c2e3"/>
<rect x="309.94" y="281.00" width="8.62" height="2.05" fill="#88aedb"/>
<rect x="318.51" y="281.00" width="8.62" height="2.05" fill="#a5c2e3"/>
<rect x="327.08" y="281.00" width="8.62" height="2.05" fill="#88aedb"/>
<rect x="335.66" y="281.00" width="8.62" height="2.05" fill="#d8e4f3"/>
<rect x="344.23" y="281.00" width="8.62" height="2.05" fill="#c2d5ec"/>
<rect x="352.80" y="281.00" width="8.62" height="2.05" fill="#c2d5ec"/>
<rect x="361.38" y="281.00" width="8.62" height="2.05" fill="#3468b2"/>
<rect x="369.95" y="281.00" width="8.62" height="2.05" fill="#d8e4f3"/>
<rect x="378.52" y="281.00" width="8.62" height="2.05" fill="#d8e4f3"/>
<rect x="258.50" y="283.00" width="8.62" height="2.05" fill="#d8e4f3"/>
<rect x="267.07" y="283.00" width="8.62" height="2.05" fill="#c2d5ec"/>
<rect x="275.65" y="283.00" width="8.62" height="2.05" fill="#d8e4f3"/>
<rect x="284.22" y="283.00" width="8.62" height="2.05" fill="#d8e4f3"/>
<rect x="292.79" y="283.00" width="8.62" height="2.05" fill="#d8e4f3"/>
<rect x="301.37" y="283.00" width="8.62" height="2.05" fill="#d8e4f3"/>
<rect x="309.94" y="283.00" width="8.62" height="2.05" fill="#c2d5ec"/>
<rect x="318.51" y="283.00" width="8.62" height="2.05" fill="#a5c2e3"/>
<rect x="327.08" y="283.00" width="8.62" height="2.05" fill="#c2d5ec"/>
<rect x="335.66" y="283.00" width="8.62" height="2.05" fill="#d8e4f3"/>
<rect x="344.23" y="283.00" width="8.62" height="2.05" fill="#c2d5ec"/>
<rect x="352.80" y="283.00" width="8.62" height="2.05" fill="#a5c2e3"/>
<rect x="361.38" y="283.00" width="8.62" height="2.05" fill="#224f9e"/>
<rect x="369.95" y="283.00" width="8.62" height="2.05" fill="#d8e4f3"/>
<rect x="378.52" y="283.00" width="8.62" height="2.05" fill="#d8e4f3"/>
<rect x="258.50" y="285.00" width="8.62" height="2.05" fill="#d8e4f3"/>
<rect x="267.07" y="285.00" width="8.62" height="2.05" fill="#d8e4f3"/>
<rect x="275.65" y="285.00" width="8.62" height="2.05" fill="#d8e4f3"/>
<rect x="284.22" y="285.00" width="8.62" height="2.05" fill="#d8e4f3"/>
<rect x="292.79" y="285.00" width="8.62" height="2.05" fill="#d8e4f3"/>
<rect x="301.37" y="285.00" width="8.62" height="2.05" fill="#d8e4f3"/>
<rect x="309.94" y="285.00" width="8.62" height="2.05" fill="#d8e4f3"/>
<rect x="318.51" y="285.00" width="8.62" height="2.05" fill="#c2d5ec"/>
<rect x="327.08" y="285.00" width="8.62" height="2.05" fill="#d8e4f3"/>
<rect x="335.66" y="285.00" width="8.62" height="2.05" fill="#d8e4f3"/>
<rect x="344.23" y="285.00" width="8.62" height="2.05" fill="#c2d5ec"/>
<rect x="352.80" y="285.00" width="8.62" height="2.05" fill="#5084c4"/>
<rect x="361.38" y="285.00" width="8.62" height="2.05" fill="#5084c4"/>
<rect x="369.95" y="285.00" width="8.62" height="2.05" fill="#c2d5ec"/>
<rect x="378.52" y="285.00" width="8.62" height="2.05" fill="#c2d5ec"/>
<rect x="258.50" y="287.00" width="8.62" height="2.05" fill="#d8e4f3"/>
<rect x="267.07" y="287.00" width="8.62" height="2.05" fill="#d8e4f3"/>
<rect x="275.65" y="287.00" width="8.62" height="2.05" fill="#d8e4f3"/>
<rect x="284.22" y="287.00" width="8.62" height="2.05" fill="#c2d5ec"/>
<rect x="292.79" y="287.00" width="8.62" height="2.05" fill="#d8e4f3"/>
<rect x="301.37" y="287.00" width="8.62" height="2.05" fill="#5084c4"/>
<rect x="309.94" y="287.00" width="8.62" height="2.05" fill="#a5c2e3"/>
<rect x="318.51" y="287.00" width="8.62" height="2.05" fill="#88aedb"/>
<rect x="327.08" y="287.00" width="8.62" height="2.05" fill="#a5c2e3"/>
<rect x="335.66" y="287.00" width="8.62" height="2.05" fill="#d8e4f3"/>
<rect x="344.23" y="287.00" width="8.62" height="2.05" fill="#c2d5ec"/>
<rect x="352.80" y="287.00" width="8.62" height="2.05" fill="#3468b2"/>
<rect x="361.38" y="287.00" width="8.62" height="2.05" fill="#a5c2e3"/>
<rect x="369.95" y="287.00" width="8.62" height="2.05" fill="#c2d5ec"/>
<rect x="378.52" y="287.00" width="8.62" height="2.05" fill="#d8e4f3"/>
<rect x="258.50" y="289.00" width="8.62" height="2.05" fill="#d8e4f3"/>
<rect x="267.07" y="289.00" width="8.62" height="2.05" fill="#d8e4f3"/>
<rect x="275.65" y="289.00" width="8.62" height="2.05" fill="#d8e4f3"/>
<rect x="284.22" y="289.00" width="8.62" height="2.05" fill="#d8e4f3"/>
<rect x="292.79" y="289.00" width="8.62" height="2.05" fill="#d8e4f3"/>
<rect x="301.37" y="289.00" width="8.62" height="2.05" fill="#d8e4f3"/>
<rect x="309.94" y="289.00" width="8.62" height="2.05" fill="#d8e4f3"/>
<rect x="318.51" y="289.00" width="8.62" height="2.05" fill="#d8e4f3"/>
<rect x="327.08" y="289.00" width="8.62" height="2.05" fill="#d8e4f3"/>
<rect x="335.66" y="289.00" width="8.62" height="2.05" fill="#c2d5ec"/>
<rect x="344.23" y="289.00" width="8.62" height="2.05" fill="#c2d5ec"/>
<rect x="352.80" y="289.00" width="8.62" height="2.05" fill="#d8e4f3"/>
<rect x="361.38" y="289.00" width="8.62" height="2.05" fill="#c2d5ec"/>
<rect x="369.95" y="289.00" width="8.62" height="2.05" fill="#88aedb"/>
<rect x="378.52" y="289.00" width="8.62" height="2.05" fill="#3468b2"/>
<rect x="258.50" y="291.00" width="8.62" height="2.05" fill="#d8e4f3"/>
<rect x="267.07" y="291.00" width="8.62" height="2.05" fill="#d8e4f3"/>
<rect x="275.65" y="291.00" width="8.62" height="2.05" fill="#c2d5ec"/>
<rect x="284.22" y="291.00" width="8.62" height="2.05" fill="#d8e4f3"/>
<rect x="292.79" y="291.00" width="8.62" height="2.05" fill="#d8e4f3"/>
<rect x="301.37" y="291.00" width="8.62" height="2.05" fill="#d8e4f3"/>
<rect x="309.94" y="291.00" width="8.62" height="2.05" fill="#d8e4f3"/>
<rect x="318.51" y="291.00" width="8.62" height="2.05" fill="#d8e4f3"/>
<rect x="327.08" y="291.00" width="8.62" height="2.05" fill="#d8e4f3"/>
<rect x="335.66" y="291.00" width="8.62" height="2.05" fill="#c2d5ec"/>
<rect x="344.23" y="291.00" width="8.62" height="2.05" fill="#d8e4f3"/>
<rect x="352.80" y="291.00" width="8.62" height="2.05" fill="#5084c4"/>
<rect x="361.38" y="291.00" width="8.62" height="2.05" fill="#a5c2e3"/>
<rect x="369.95" y="291.00" width="8.62" height="2.05" fill="#5084c4"/>
<rect x="378.52" y="291.00" width="8.62" height="2.05" fill="#6b99d0"/>
<rect x="258.50" y="293.00" width="8.62" height="2.05" fill="#5084c4"/>
<rect x="267.07" y="293.00" width="8.62" height="2.05" fill="#88aedb"/>
<rect x="275.65" y="293.00" width="8.62" height="2.05" fill="#88aedb"/>
<rect x="284.22" y="293.00" width="8.62" height="2.05" fill="#6b99d0"/>
<rect x="292.79" y="293.00" width="8.62" height="2.05" fill="#6b99d0"/>
<rect x="301.37" y="293.00" width="8.62" height="2.05" fill="#d8e4f3"/>
<rect x="309.94" y="293.00" width="8.62" height="2.05" fill="#d8e4f3"/>
<rect x="318.51" y="293.00" width="8.62" height="2.05" fill="#d8e4f3"/>
<rect x="327.08" y="293.00" width="8.62" height="2.05" fill="#d8e4f3"/>
<rect x="335.66" y="293.00" width="8.62" height="2.05" fill="#d8e4f3"/>
<rect x="344.23" y="293.00" width="8.62" height="2.05" fill="#c2d5ec"/>
<rect x="352.80" y="293.00" width="8.62" height="2.05" fill="#d8e4f3"/>
<rect x="361.38" y="293.00" width="8.62" height="2.05" fill="#c2d5ec"/>
<rect x="369.95" y="293.00" width="8.62" height="2.05" fill="#3468b2"/>
<rect x="378.52" y="293.00" width="8.62" height="2.05" fill="#88aedb"/>
<rect x="258.50" y="295.00" width="8.62" height="2.05" fill="#88aedb"/>
<rect x="267.07" y="295.00" width="8.62" height="2.05" fill="#88aedb"/>
<rect x="275.65" y="295.00" width="8.62" height="2.05" fill="#88aedb"/>
<rect x="284.22" y="295.00" width="8.62" height="2.05" fill="#88aedb"/>
<rect x="292.79" y="295.00" width="8.62" height="2.05" fill="#6b99d0"/>
<rect x="301.37" y="295.00" width="8.62" height="2.05" fill="#e7eef8"/>
<rect x="309.94" y="295.00" width="8.62" height="2.05" fill="#e7eef8"/>
<rect x="318.51" y="295.00" width="8.62" height="2.05" fill="#e7eef8"/>
<rect x="327.08" y="295.00" width="8.62" height="2.05" fill="#d8e4f3"/>
<rect x="335.66" y="295.00" width="8.62" height="2.05" fill="#c2d5ec"/>
<rect x="344.23" y="295.00" width="8.62" height="2.05" fill="#d8e4f3"/>
<rect x="352.80" y="295.00" width="8.62" height="2.05" fill="#e7eef8"/>
<rect x="361.38" y="295.00" width="8.62" height="2.05" fill="#d8e4f3"/>
<rect x="369.95" y="295.00" width="8.62" height="2.05" fill="#d8e4f3"/>
<rect x="378.52" y="295.00" width="8.62" height="2.05" fill="#c2d5ec"/>
<rect x="258.50" y="297.00" width="8.62" height="2.05" fill="#88aedb"/>
<rect x="267.07" y="297.00" width="8.62" height="2.05" fill="#88aedb"/>
<rect x="275.65" y="297.00" width="8.62" height="2.05" fill="#5084c4"/>
<rect x="284.22" y="297.00" width="8.62" height="2.05" fill="#88aedb"/>
<rect x="292.79" y="297.00" width="8.62" height="2.05" fill="#5084c4"/>
<rect x="301.37" y="297.00" width="8.62" height="2.05" fill="#e7eef8"/>
<rect x="309.94" y="297.00" width="8.62" height="2.05" fill="#e7eef8"/>
<rect x="318.51" y="297.00" width="8.62" height="2.05" fill="#d8e4f3"/>
<rect x="327.08" y="297.00" width="8.62" height="2.05" fill="#e7eef8"/>
<rect x="335.66" y="297.00" width="8.62" height="2.05" fill="#d8e4f3"/>
<rect x="344.23" y="297.00" width="8.62" height="2.05" fill="#d8e4f3"/>
<rect x="352.80" y="297.00" width="8.62" height="2.05" fill="#e7eef8"/>
<rect x="361.38" y="297.00" width="8.62" height="2.05" fill="#d8e4f3"/>
<rect x="369.95" y="297.00" width="8.62" height="2.05" fill="#a5c2e3"/>
<rect x="378.52" y="297.00" width="8.62" height="2.05" fill="#a5c2e3"/>
<rect x="258.50" y="299.00" width="8.62" height="2.05" fill="#88aedb"/>
<rect x="267.07" y="299.00" width="8.62" height="2.05" fill="#a5c2e3"/>
<rect x="275.65" y="299.00" width="8.62" height="2.05" fill="#88aedb"/>
<rect x="284.22" y="299.00" width="8.62" height="2.05" fill="#3468b2"/>
<rect x="292.79" y="299.00" width="8.62" height="2.05" fill="#5084c4"/>
<rect x="301.37" y="299.00" width="8.62" height="2.05" fill="#e7eef8"/>
<rect x="309.94" y="299.00" width="8.62" height="2.05" fill="#e7eef8"/>
<rect x="318.51" y="299.00" width="8.62" height="2.05" fill="#d8e4f3"/>
<rect x="327.08" y="299.00" width="8.62" height="2.05" fill="#d8e4f3"/>
<rect x="335.66" y="299.00" width="8.62" height="2.05" fill="#d8e4f3"/>
<rect x="344.23" y="299.00" width="8.62" height="2.05" fill="#c2d5ec"/>
<rect x="352.80" y="299.00" width="8.62" height="2.05" fill="#e7eef8"/>
<rect x="361.38" y="299.00" width="8.62" height="2.05" fill="#d8e4f3"/>
<rect x="369.95" y="299.00" width="8.62" height="2.05" fill="#d8e4f3"/>
<rect x="378.52" y="299.00" width="8.62" height="2.05" fill="#d8e4f3"/>
<rect x="258.50" y="301.00" width="8.62" height="2.05" fill="#6b99d0"/>
<rect x="267.07" y="301.00" width="8.62" height="2.05" fill="#a5c2e3"/>
<rect x="275.65" y="301.00" width="8.62" height="2.05" fill="#88aedb"/>
<rect x="284.22" y="301.00" width="8.62" height="2.05" fill="#a5c2e3"/>
<rect x="292.79" y="301.00" width="8.62" height="2.05" fill="#5084c4"/>
<rect x="301.37" y="301.00" width="8.62" height="2.05" fill="#d8e4f3"/>
<rect x="309.94" y="301.00" width="8.62" height="2.05" fill="#e7eef8"/>
<rect x="318.51" y="301.00" width="8.62" height="2.05" fill="#e7eef8"/>
<rect x="327.08" y="301.00" width="8.62" height="2.05" fill="#e7eef8"/>
<rect x="335.66" y="301.00" width="8.62" height="2.05" fill="#d8e4f3"/>
<rect x="344.23" y="301.00" width="8.62" height="2.05" fill="#d8e4f3"/>
<rect x="352.80" y="301.00" width="8.62" height="2.05" fill="#d8e4f3"/>
<rect x="361.38" y="301.00" width="8.62" height="2.05" fill="#c2d5ec"/>
<rect x="369.95" y="301.00" width="8.62" height="2.05" fill="#d8e4f3"/>
<rect x="378.52" y="301.00" width="8.62" height="2.05" fill="#d8e4f3"/>
<rect x="258.50" y="303.00" width="8.62" height="2.05" fill="#a5c2e3"/>
<rect x="267.07" y="303.00" width="8.62" height="2.05" fill="#88aedb"/>
<rect x="275.65" y="303.00" width="8.62" height="2.05" fill="#6b99d0"/>
<rect x="284.22" y="303.00" width="8.62" height="2.05" fill="#88aedb"/>
<rect x="292.79" y="303.00" width="8.62" height="2.05" fill="#6b99d0"/>
<rect x="301.37" y="303.00" width="8.62" height="2.05" fill="#d8e4f3"/>
<rect x="309.94" y="303.00" width="8.62" height="2.05" fill="#e7eef8"/>
<rect x="318.51" y="303.00" width="8.62" height="2.05" fill="#e7eef8"/>
<rect x="327.08" y="303.00" width="8.62" height="2.05" fill="#e7eef8"/>
<rect x="335.66" y="303.00" width="8.62" height="2.05" fill="#d8e4f3"/>
<rect x="344.23" y="303.00" width="8.62" height="2.05" fill="#d8e4f3"/>
<rect x="352.80" y="303.00" width="8.62" height="2.05" fill="#d8e4f3"/>
<rect x="361.38" y="303.00" width="8.62" height="2.05" fill="#d8e4f3"/>
<rect x="369.95" y="303.00" width="8.62" height="2.05" fill="#d8e4f3"/>
<rect x="378.52" y="303.00" width="8.62" height="2.05" fill="#d8e4f3"/>
<rect x="258.50" y="305.00" width="8.62" height="2.05" fill="#88aedb"/>
<rect x="267.07" y="305.00" width="8.62" height="2.05" fill="#a5c2e3"/>
<rect x="275.65" y="305.00" width="8.62" height="2.05" fill="#a5c2e3"/>
<rect x="284.22" y="305.00" width="8.62" height="2.05" fill="#d8e4f3"/>
<rect x="292.79" y="305.00" width="8.62" height="2.05" fill="#88aedb"/>
<rect x="301.37" y="305.00" width="8.62" height="2.05" fill="#e7eef8"/>
<rect x="309.94" y="305.00" width="8.62" height="2.05" fill="#e7eef8"/>
<rect x="318.51" y="305.00" width="8.62" height="2.05" fill="#e7eef8"/>
<rect x="327.08" y="305.00" width="8.62" height="2.05" fill="#e7eef8"/>
<rect x="335.66" y="305.00" width="8.62" height="2.05" fill="#c2d5ec"/>
<rect x="344.23" y="305.00" width="8.62" height="2.05" fill="#c2d5ec"/>
<rect x="352.80" y="305.00" width="8.62" height="2.05" fill="#e7eef8"/>
<rect x="361.38" y="305.00" width="8.62" height="2.05" fill="#a5c2e3"/>
<rect x="369.95" y="305.00" width="8.62" height="2.05" fill="#c2d5ec"/>
<rect x="378.52" y="305.00" width="8.62" height="2.05" fill="#88aedb"/>
<rect x="258.50" y="307.00" width="8.62" height="2.05" fill="#88aedb"/>
<rect x="267.07" y="307.00" width="8.62" height="2.05" fill="#88aedb"/>
<rect x="275.65" y="307.00" width="8.62" height="2.05" fill="#88aedb"/>
<rect x="284.22" y="307.00" width="8.62" height="2.05" fill="#a5c2e3"/>
<rect x="292.79" y="307.00" width="8.62" height="2.05" fill="#88aedb"/>
<rect x="301.37" y="307.00" width="8.62" height="2.05" fill="#d8e4f3"/>
<rect x="309.94" y="307.00" width="8.62" height="2.05" fill="#d8e4f3"/>
<rect x="318.51" y="307.00" width="8.62" height="2.05" fill="#d8e4f3"/>
<rect x="327.08" y="307.00" width="8.62" height="2.05" fill="#d8e4f3"/>
<rect x="335.66" y="307.00" width="8.62" height="2.05" fill="#d8e4f3"/>
<rect x="344.23" y="307.00" width="8.62" height="2.05" fill="#d8e4f3"/>
<rect x="352.80" y="307.00" width="8.62" height="2.05" fill="#e7eef8"/>
<rect x="361.38" y="307.00" width="8.62" height="2.05" fill="#a5c2e3"/>
<rect x="369.95" y="307.00" width="8.62" height="2.05" fill="#6b99d0"/>
<rect x="378.52" y="307.00" width="8.62" height="2.05" fill="#6b99d0"/>
<rect x="258.50" y="309.00" width="8.62" height="2.05" fill="#3468b2"/>
<rect x="267.07" y="309.00" width="8.62" height="2.05" fill="#5084c4"/>
<rect x="275.65" y="309.00" width="8.62" height="2.05" fill="#88aedb"/>
<rect x="284.22" y="309.00" width="8.62" height="2.05" fill="#88aedb"/>
<rect x="292.79" y="309.00" width="8.62" height="2.05" fill="#6b99d0"/>
<rect x="301.37" y="309.00" width="8.62" height="2.05" fill="#d8e4f3"/>
<rect x="309.94" y="309.00" width="8.62" height="2.05" fill="#e7eef8"/>
<rect x="318.51" y="309.00" width="8.62" height="2.05" fill="#e7eef8"/>
<rect x="327.08" y="309.00" width="8.62" height="2.05" fill="#e7eef8"/>
<rect x="335.66" y="309.00" width="8.62" height="2.05" fill="#d8e4f3"/>
<rect x="344.23" y="309.00" width="8.62" height="2.05" fill="#a5c2e3"/>
<rect x="352.80" y="309.00" width="8.62" height="2.05" fill="#c2d5ec"/>
<rect x="361.38" y="309.00" width="8.62" height="2.05" fill="#c2d5ec"/>
<rect x="369.95" y="309.00" width="8.62" height="2.05" fill="#5084c4"/>
<rect x="378.52" y="309.00" width="8.62" height="2.05" fill="#5084c4"/>
<rect x="258.50" y="311.00" width="8.62" height="2.05" fill="#88aedb"/>
<rect x="267.07" y="311.00" width="8.62" height="2.05" fill="#3468b2"/>
<rect x="275.65" y="311.00" width="8.62" height="2.05" fill="#88aedb"/>
<rect x="284.22" y="311.00" width="8.62" height="2.05" fill="#6b99d0"/>
<rect x="292.79" y="311.00" width="8.62" height="2.05" fill="#6b99d0"/>
<rect x="301.37" y="311.00" width="8.62" height="2.05" fill="#e7eef8"/>
<rect x="309.94" y="311.00" width="8.62" height="2.05" fill="#e7eef8"/>
<rect x="318.51" y="311.00" width="8.62" height="2.05" fill="#d8e4f3"/>
<rect x="327.08" y="311.00" width="8.62" height="2.05" fill="#e7eef8"/>
<rect x="335.66" y="311.00" width="8.62" height="2.05" fill="#d8e4f3"/>
<rect x="344.23" y="311.00" width="8.62" height="2.05" fill="#d8e4f3"/>
<rect x="352.80" y="311.00" width="8.62" height="2.05" fill="#d8e4f3"/>
<rect x="361.38" y="311.00" width="8.62" height="2.05" fill="#d8e4f3"/>
<rect x="369.95" y="311.00" width="8.62" height="2.05" fill="#6b99d0"/>
<rect x="378.52" y="311.00" width="8.62" height="2.05" fill="#c2d5ec"/>
<rect x="258.50" y="313.00" width="8.62" height="2.05" fill="#88aedb"/>
<rect x="267.07" y="313.00" width="8.62" height="2.05" fill="#a5c2e3"/>
<rect x="275.65" y="313.00" width="8.62" height="2.05" fill="#88aedb"/>
<rect x="284.22" y="313.00" width="8.62" height="2.05" fill="#5084c4"/>
<rect x="292.79" y="313.00" width="8.62" height="2.05" fill="#88aedb"/>
<rect x="301.37" y="313.00" width="8.62" height="2.05" fill="#e7eef8"/>
<rect x="309.94" y="313.00" width="8.62" height="2.05" fill="#d8e4f3"/>
<rect x="318.51" y="313.00" width="8.62" height="2.05" fill="#e7eef8"/>
<rect x="327.08" y="313.00" width="8.62" height="2.05" fill="#d8e4f3"/>
<rect x="335.66" y="313.00" width="8.62" height="2.05" fill="#a5c2e3"/>
<rect x="344.23" y="313.00" width="8.62" height="2.05" fill="#d8e4f3"/>
<rect x="352.80" y="313.00" width="8.62" height="2.05" fill="#d8e4f3"/>
<rect x="361.38" y="313.00" width="8.62" height="2.05" fill="#d8e4f3"/>
<rect x="369.95" y="313.00" width="8.62" height="2.05" fill="#d8e4f3"/>
<rect x="378.52" y="313.00" width="8.62" height="2.05" fill="#d8e4f3"/>
<rect x="258.50" y="315.00" width="8.62" height="2.05" fill="#88aedb"/>
<rect x="267.07" y="315.00" width="8.62" height="2.05" fill="#88aedb"/>
<rect x="275.65" y="315.00" width="8.62" height="2.05" fill="#a5c2e3"/>
<rect x="284.22" y="315.00" width="8.62" height="2.05" fill="#88aedb"/>
<rect x="292.79" y="315.00" width="8.62" height="2.05" fill="#6b99d0"/>
<rect x="301.37" y="315.00" width="8.62" height="2.05" fill="#d8e4f3"/>
<rect x="309.94" y="315.00" width="8.62" height="2.05" fill="#e7eef8"/>
<rect x="318.51" y="315.00" width="8.62" height="2.05" fill="#d8e4f3"/>
<rect x="327.08" y="315.00" width="8.62" height="2.05" fill="#e7eef8"/>
<rect x="335.66" y="315.00" width="8.62" height="2.05" fill="#d8e4f3"/>
<rect x="344.23" y="315.00" width="8.62" height="2.05" fill="#c2d5ec"/>
<rect x="352.80" y="315.00" width="8.62" height="2.05" fill="#d8e4f3"/>
<rect x="361.38" y="315.00" width="8.62" height="2.05" fill="#c2d5ec"/>
<rect x="369.95" y="315.00" width="8.62" height="2.05" fill="#d8e4f3"/>
<rect x="378.52" y="315.00" width="8.62" height="2.05" fill="#d8e4f3"/>
<rect x="258.50" y="317.00" width="8.62" height="2.05" fill="#88aedb"/>
<rect x="267.07" y="317.00" width="8.62" height="2.05" fill="#224f9e"/>
<rect x="275.65" y="317.00" width="8.62" height="2.05" fill="#88aedb"/>
<rect x="284.22" y="317.00" width="8.62" height="2.05" fill="#88aedb"/>
<rect x="292.79" y="317.00" width="8.62" height="2.05" fill="#88aedb"/>
<rect x="301.37" y="317.00" width="8.62" height="2.05" fill="#e7eef8"/>
<rect x="309.94" y="317.00" width="8.62" height="2.05" fill="#e7eef8"/>
<rect x="318.51" y="317.00" width="8.62" height="2.05" fill="#e7eef8"/>
<rect x="327.08" y="317.00" width="8.62" height="2.05" fill="#e7eef8"/>
<rect x="335.66" y="317.00" width="8.62" height="2.05" fill="#d8e4f3"/>
<rect x="344.23" y="317.00" width="8.62" height="2.05" fill="#c2d5ec"/>
<rect x="352.80" y="317.00" width="8.62" height="2.05" fill="#d8e4f3"/>
<rect x="361.38" y="317.00" width="8.62" height="2.05" fill="#6b99d0"/>
<rect x="369.95" y="317.00" width="8.62" height="2.05" fill="#c2d5ec"/>
<rect x="378.52" y="317.00" width="8.62" height="2.05" fill="#d8e4f3"/>
<rect x="258.50" y="319.00" width="8.62" height="2.05" fill="#88aedb"/>
<rect x="267.07" y="319.00" width="8.62" height="2.05" fill="#a5c2e3"/>
<rect x="275.65" y="319.00" width="8.62" height="2.05" fill="#88aedb"/>
<rect x="284.22" y="319.00" width="8.62" height="2.05" fill="#5084c4"/>
<rect x="292.79" y="319.00" width="8.62" height="2.05" fill="#88aedb"/>
<rect x="301.37" y="319.00" width="8.62" height="2.05" fill="#e7eef8"/>
<rect x="309.94" y="319.00" width="8.62" height="2.05" fill="#e7eef8"/>
<rect x="318.51" y="319.00" width="8.62" height="2.05" fill="#e7eef8"/>
<rect x="327.08" y="319.00" width="8.62" height="2.05" fill="#e7eef8"/>
<rect x="335.66" y="319.00" width="8.62" height="2.05" fill="#c2d5ec"/>
<rect x="344.23" y="319.00" width="8.62" height="2.05" fill="#d8e4f3"/>
<rect x="352.80" y="319.00" width="8.62" height="2.05" fill="#d8e4f3"/>
<rect x="361.38" y="319.00" width="8.62" height="2.05" fill="#d8e4f3"/>
<rect x="369.95" y="319.00" width="8.62" height="2.05" fill="#c2d5ec"/>
<rect x="378.52" y="319.00" width="8.62" height="2.05" fill="#d8e4f3"/>
<rect x="258.50" y="321.00" width="8.62" height="2.05" fill="#a5c2e3"/>
<rect x="267.07" y="321.00" width="8.62" height="2.05" fill="#88aedb"/>
<rect x="275.65" y="321.00" width="8.62" height="2.05" fill="#6b99d0"/>
<rect x="284.22" y="321.00" width="8.62" height="2.05" fill="#88aedb"/>
<rect x="292.79" y="321.00" width="8.62" height="2.05" fill="#88aedb"/>
<rect x="301.37" y="321.00" width="8.62" height="2.05" fill="#e7eef8"/>
<rect x="309.94" y="321.00" width="8.62" height="2.05" fill="#e7eef8"/>
<rect x="318.51" y="321.00" width="8.62" height="2.05" fill="#e7eef8"/>
<rect x="327.08" y="321.00" width="8.62" height="2.05" fill="#d8e4f3"/>
<rect x="335.66" y="321.00" width="8.62" height="2.05" fill="#d8e4f3"/>
<rect x="344.23" y="321.00" width="8.62" height="2.05" fill="#d8e4f3"/>
<rect x="352.80" y="321.00" width="8.62" height="2.05" fill="#d8e4f3"/>
<rect x="361.38" y="321.00" width="8.62" height="2.05" fill="#d8e4f3"/>
<rect x="369.95" y="321.00" width="8.62" height="2.05" fill="#d8e4f3"/>
<rect x="378.52" y="321.00" width="8.62" height="2.05" fill="#d8e4f3"/>
<rect x="258.50" y="323.00" width="8.62" height="2.05" fill="#88aedb"/>
<rect x="267.07" y="323.00" width="8.62" height="2.05" fill="#88aedb"/>
<rect x="275.65" y="323.00" width="8.62" height="2.05" fill="#88aedb"/>
<rect x="284.22" y="323.00" width="8.62" height="2.05" fill="#88aedb"/>
<rect x="292.79" y="323.00" width="8.62" height="2.05" fill="#88aedb"/>
<rect x="301.37" y="323.00" width="8.62" height="2.05" fill="#c2d5ec"/>
<rect x="309.94" y="323.00" width="8.62" height="2.05" fill="#d8e4f3"/>
<rect x="318.51" y="323.00" width="8.62" height="2.05" fill="#e7eef8"/>
<rect x="327.08" y="323.00" width="8.62" height="2.05" fill="#e7eef8"/>
<rect x="335.66" y="323.00" width="8.62" height="2.05" fill="#d8e4f3"/>
<rect x="344.23" y="323.00" width="8.62" height="2.05" fill="#a5c2e3"/>
<rect x="352.80" y="323.00" width="8.62" height="2.05" fill="#a5c2e3"/>
<rect x="361.38" y="323.00" width="8.62" height="2.05" fill="#a5c2e3"/>
<rect x="369.95" y="323.00" width="8.62" height="2.05" fill="#a5c2e3"/>
<rect x="378.52" y="323.00" width="8.62" height="2.05" fill="#a5c2e3"/>
<rect x="258.50" y="190.20" width="42.87" height="5.00" fill="#3d9160"/>
<rect x="301.37" y="190.20" width="42.87" height="5.00" fill="#6a62b0"/>
<rect x="344.23" y="190.20" width="42.87" height="5.00" fill="#c8582a"/>
<text x="388.50" y="194.70" font-size="5.2" textLength="29.90" lengthAdjust="spacingAndGlyphs">Sample Type</text>
<path d="M271.36 188.80V185.40H279.93V188.80" stroke="#2a2a2a" stroke-width="0.75" fill="none"/>
<path d="M288.51 188.80V186.30H297.08V188.80" stroke="#2a2a2a" stroke-width="0.75" fill="none"/>
<path d="M275.65 185.40V183.10H292.79V186.30" stroke="#2a2a2a" stroke-width="0.75" fill="none"/>
<path d="M262.79 188.80V179.60H284.22V183.10" stroke="#2a2a2a" stroke-width="0.75" fill="none"/>
<path d="M322.80 188.80V186.60H331.37V188.80" stroke="#2a2a2a" stroke-width="0.75" fill="none"/>
<path d="M314.22 188.80V186.20H327.08V186.60" stroke="#2a2a2a" stroke-width="0.75" fill="none"/>
<path d="M305.65 188.80V185.80H320.65V186.20" stroke="#2a2a2a" stroke-width="0.75" fill="none"/>
<path d="M339.94 188.80V187.10H348.52V188.80" stroke="#2a2a2a" stroke-width="0.75" fill="none"/>
<path d="M357.09 188.80V186.40H365.66V188.80" stroke="#2a2a2a" stroke-width="0.75" fill="none"/>
<path d="M374.24 188.80V187.00H382.81V188.80" stroke="#2a2a2a" stroke-width="0.75" fill="none"/>
<path d="M361.38 186.40V185.20H378.52V187.00" stroke="#2a2a2a" stroke-width="0.75" fill="none"/>
<path d="M344.23 187.10V182.30H369.95V185.20" stroke="#2a2a2a" stroke-width="0.75" fill="none"/>
<path d="M313.15 185.80V175.50H357.09V182.30" stroke="#2a2a2a" stroke-width="0.75" fill="none"/>
<path d="M273.50 179.60V170.00H335.12V175.50" stroke="#2a2a2a" stroke-width="0.75" fill="none"/>
<path d="M388.3 196.9H392.3V324.8H388.3" stroke="#333" stroke-width="0.8" fill="none"/>
<line x1="388.30" y1="221.90" x2="392.30" y2="221.90" stroke="#333" stroke-width="0.8"/>
<line x1="388.30" y1="247.30" x2="392.30" y2="247.30" stroke="#333" stroke-width="0.8"/>
<line x1="388.30" y1="288.40" x2="392.30" y2="288.40" stroke="#333" stroke-width="0.8"/>
<text x="395.90" y="207.40" font-size="5.3" textLength="45.00" lengthAdjust="spacingAndGlyphs">Cytokine Signalling</text>
<text x="461.70" y="207.40" font-size="5.3" textLength="34.00" lengthAdjust="spacingAndGlyphs">FDR 2.07E-02</text>
<text x="395.90" y="213.70" font-size="5.3" textLength="42.60" lengthAdjust="spacingAndGlyphs">IFN α/β Signalling</text>
<text x="461.70" y="213.70" font-size="5.3" textLength="34.00" lengthAdjust="spacingAndGlyphs">FDR 3.34E-02</text>
<text x="395.90" y="233.00" font-size="5.3">AP1 Pathway</text>
<text x="461.70" y="233.00" font-size="5.3" textLength="34.00" lengthAdjust="spacingAndGlyphs">FDR 7.36E-08</text>
<text x="395.90" y="239.50" font-size="5.3" textLength="48.60" lengthAdjust="spacingAndGlyphs">Metabolism of Lipids</text>
<text x="461.70" y="239.50" font-size="5.3" textLength="34.00" lengthAdjust="spacingAndGlyphs">FDR 3.35E-07</text>
<text x="395.90" y="266.00" font-size="5.3" textLength="52.20" lengthAdjust="spacingAndGlyphs">Innate Immune System</text>
<text x="461.70" y="266.00" font-size="5.3" textLength="34.00" lengthAdjust="spacingAndGlyphs">FDR 6.68E-07</text>
<text x="395.90" y="272.30" font-size="5.3" textLength="58.60" lengthAdjust="spacingAndGlyphs">Adaptive Immune System</text>
<text x="461.70" y="272.30" font-size="5.3" textLength="34.00" lengthAdjust="spacingAndGlyphs">FDR 8.62E-05</text>
<text x="395.90" y="304.50" font-size="5.3" textLength="48.60" lengthAdjust="spacingAndGlyphs">Metabolism of Lipids</text>
<text x="461.70" y="304.50" font-size="5.3" textLength="34.00" lengthAdjust="spacingAndGlyphs">FDR 1.83E-05</text>
<text x="395.90" y="311.00" font-size="5.3" textLength="90.30" lengthAdjust="spacingAndGlyphs">RAF-independent MAPK1-3 Activation</text>
<text x="461.70" y="317.20" font-size="5.3" textLength="34.00" lengthAdjust="spacingAndGlyphs">FDR 9.39E-05</text>
<line x1="394.80" y1="329.40" x2="500.00" y2="329.40" stroke="#333" stroke-width="0.9"/>
<text x="447.40" y="338.00" font-size="5.3" text-anchor="middle" textLength="62.00" lengthAdjust="spacingAndGlyphs">Representative Gene Sets</text>
<text x="264.34" y="327.20" font-size="5.4" text-anchor="end" transform="rotate(-90 264.34 327.20)" style="stroke-width:0.03px">Ctrl2</text>
<text x="272.91" y="327.20" font-size="5.4" text-anchor="end" transform="rotate(-90 272.91 327.20)" style="stroke-width:0.03px">Ctrl3</text>
<text x="281.48" y="327.20" font-size="5.4" text-anchor="end" transform="rotate(-90 281.48 327.20)" style="stroke-width:0.03px">Ctrl5</text>
<text x="290.06" y="327.20" font-size="5.4" text-anchor="end" transform="rotate(-90 290.06 327.20)" style="stroke-width:0.03px">Ctrl4b</text>
<text x="298.63" y="327.20" font-size="5.4" text-anchor="end" transform="rotate(-90 298.63 327.20)" style="stroke-width:0.03px">Ctrl4a</text>
<text x="307.20" y="327.20" font-size="5.4" text-anchor="end" transform="rotate(-90 307.20 327.20)" style="stroke-width:0.03px">BPDCN10</text>
<text x="315.77" y="327.20" font-size="5.4" text-anchor="end" transform="rotate(-90 315.77 327.20)" style="stroke-width:0.03px">BPDCN8</text>
<text x="324.35" y="327.20" font-size="5.4" text-anchor="end" transform="rotate(-90 324.35 327.20)" style="stroke-width:0.03px">BPDCN2</text>
<text x="332.92" y="327.20" font-size="5.4" text-anchor="end" transform="rotate(-90 332.92 327.20)" style="stroke-width:0.03px">BPDCN6</text>
<text x="341.49" y="327.20" font-size="5.4" text-anchor="end" transform="rotate(-90 341.49 327.20)" style="stroke-width:0.03px">BPDCN4</text>
<text x="350.07" y="327.20" font-size="5.4" text-anchor="end" transform="rotate(-90 350.07 327.20)" style="stroke-width:0.03px">CTCL10</text>
<text x="358.64" y="327.20" font-size="5.4" text-anchor="end" transform="rotate(-90 358.64 327.20)" style="stroke-width:0.03px">CTCL6</text>
<text x="367.21" y="327.20" font-size="5.4" text-anchor="end" transform="rotate(-90 367.21 327.20)" style="stroke-width:0.03px">CTCL7</text>
<text x="375.79" y="327.20" font-size="5.4" text-anchor="end" transform="rotate(-90 375.79 327.20)" style="stroke-width:0.03px">CTCL8</text>
<text x="384.36" y="327.20" font-size="5.4" text-anchor="end" transform="rotate(-90 384.36 327.20)" style="stroke-width:0.03px">CTCL9</text>
<line x1="301.40" y1="326.70" x2="301.40" y2="348.20" stroke="#333" stroke-width="0.7"/>
<line x1="344.30" y1="326.70" x2="344.30" y2="348.20" stroke="#333" stroke-width="0.7"/>
</svg></body></html>
